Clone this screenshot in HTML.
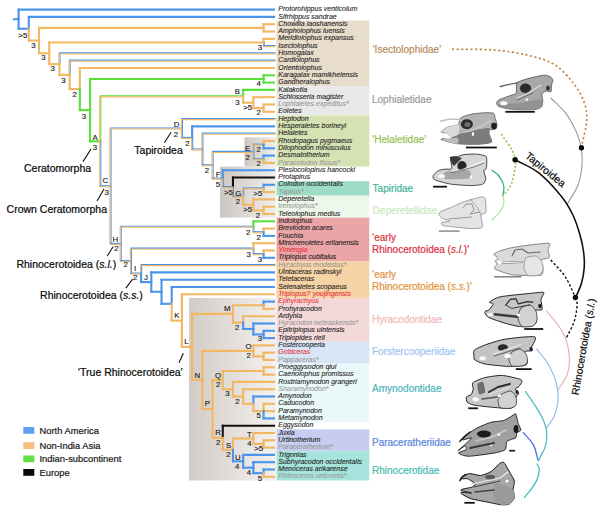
<!DOCTYPE html>
<html><head><meta charset="utf-8"><style>
html,body{margin:0;padding:0;background:#fff;width:600px;height:514px;overflow:hidden}
svg{display:block;font-family:"Liberation Sans",sans-serif}
</style></head><body>
<svg width="600" height="514" viewBox="0 0 600 514">
<defs><linearGradient id="gb" x1="0" x2="1" y1="0" y2="0"><stop offset="0" stop-color="#cdc6c0"/><stop offset="1" stop-color="#f1efed"/></linearGradient><linearGradient id="gb2" x1="0" x2="1" y1="0" y2="0"><stop offset="0" stop-color="#d2cbc6"/><stop offset="1" stop-color="#f3f1ef"/></linearGradient></defs>
<rect x="276.5" y="20.55" width="92.8" height="65.70" fill="#e8dccb"/>
<rect x="276.5" y="86.25" width="92.8" height="29.20" fill="#e9e9e9"/>
<rect x="276.5" y="115.45" width="92.8" height="51.10" fill="#d6e2b4"/>
<rect x="276.5" y="181.15" width="92.8" height="14.60" fill="#9fdcc8"/>
<rect x="276.5" y="195.75" width="92.8" height="21.90" fill="#eef8ea"/>
<rect x="276.5" y="217.65" width="92.8" height="43.80" fill="#eba5a7"/>
<rect x="276.5" y="261.45" width="92.8" height="36.50" fill="#f5d3a5"/>
<rect x="276.5" y="297.95" width="92.8" height="43.80" fill="#f3d8d8"/>
<rect x="276.5" y="341.75" width="92.8" height="21.90" fill="#d8e6f7"/>
<rect x="276.5" y="363.65" width="92.8" height="58.40" fill="#eaf9f8"/>
<rect x="276.5" y="429.35" width="92.8" height="21.90" fill="#c7cdf0"/>
<rect x="276.5" y="451.25" width="92.8" height="29.20" fill="#a6e3dc"/>
<rect x="244.4" y="137.35" width="31.6" height="29.20" fill="url(#gb)"/>
<rect x="220.1" y="166.55" width="55.9" height="51.10" fill="url(#gb)"/>
<rect x="189.0" y="297.95" width="87" height="182.50" fill="url(#gb2)"/>
<line x1="13" y1="19.17" x2="18.60" y2="19.17" stroke="#4a94ec" stroke-width="2.1"/>
<line x1="18.60" y1="8.60" x2="18.60" y2="20.17" stroke="#4a94ec" stroke-width="2.1"/>
<line x1="17.60" y1="9.60" x2="275.00" y2="9.60" stroke="#4a94ec" stroke-width="2.1"/>
<line x1="18.60" y1="18.17" x2="18.60" y2="29.74" stroke="#4a94ec" stroke-width="2.1"/>
<line x1="17.60" y1="28.74" x2="28.81" y2="28.74" stroke="#4a94ec" stroke-width="2.1"/>
<line x1="28.81" y1="15.90" x2="28.81" y2="29.74" stroke="#4a94ec" stroke-width="2.1"/>
<line x1="27.81" y1="16.90" x2="275.00" y2="16.90" stroke="#4a94ec" stroke-width="2.1"/>
<line x1="28.81" y1="27.74" x2="28.81" y2="41.57" stroke="#f2b760" stroke-width="2.1"/>
<line x1="27.81" y1="40.57" x2="39.02" y2="40.57" stroke="#f2b760" stroke-width="2.1"/>
<line x1="39.02" y1="26.85" x2="39.02" y2="41.57" stroke="#f2b760" stroke-width="2.1"/>
<line x1="38.02" y1="27.85" x2="263.59" y2="27.85" stroke="#f2b760" stroke-width="2.1"/>
<line x1="263.59" y1="23.20" x2="263.59" y2="28.85" stroke="#f2b760" stroke-width="2.1"/>
<line x1="262.59" y1="24.20" x2="275.00" y2="24.20" stroke="#f2b760" stroke-width="2.1"/>
<line x1="263.59" y1="26.85" x2="263.59" y2="32.50" stroke="#f2b760" stroke-width="2.1"/>
<line x1="262.59" y1="31.50" x2="275.00" y2="31.50" stroke="#f2b760" stroke-width="2.1"/>
<line x1="39.02" y1="39.57" x2="39.02" y2="54.29" stroke="#f2b760" stroke-width="2.1"/>
<line x1="38.02" y1="53.29" x2="49.22" y2="53.29" stroke="#f2b760" stroke-width="2.1"/>
<line x1="49.22" y1="41.45" x2="49.22" y2="54.29" stroke="#f2b760" stroke-width="2.1"/>
<line x1="48.22" y1="42.45" x2="263.59" y2="42.45" stroke="#f2b760" stroke-width="2.1"/>
<line x1="263.59" y1="37.80" x2="263.59" y2="43.45" stroke="#f2b760" stroke-width="2.1"/>
<line x1="262.59" y1="38.80" x2="275.00" y2="38.80" stroke="#f2b760" stroke-width="2.1"/>
<line x1="264.14" y1="41.95" x2="264.14" y2="46.60" stroke="#4a94ec" stroke-width="1.1"/>
<line x1="263.04" y1="41.95" x2="263.04" y2="46.60" stroke="#f2b760" stroke-width="1.1"/>
<line x1="263.09" y1="45.55" x2="275.50" y2="45.55" stroke="#4a94ec" stroke-width="1.1"/>
<line x1="263.09" y1="46.65" x2="275.50" y2="46.65" stroke="#f2b760" stroke-width="1.1"/>
<line x1="49.22" y1="52.29" x2="49.22" y2="65.14" stroke="#f2b760" stroke-width="2.1"/>
<line x1="48.22" y1="64.14" x2="59.43" y2="64.14" stroke="#f2b760" stroke-width="2.1"/>
<line x1="59.98" y1="52.90" x2="59.98" y2="64.64" stroke="#4a94ec" stroke-width="1.1"/>
<line x1="58.88" y1="52.90" x2="58.88" y2="64.64" stroke="#f2b760" stroke-width="1.1"/>
<line x1="58.93" y1="52.85" x2="275.50" y2="52.85" stroke="#4a94ec" stroke-width="1.1"/>
<line x1="58.93" y1="53.95" x2="275.50" y2="53.95" stroke="#f2b760" stroke-width="1.1"/>
<line x1="59.43" y1="63.14" x2="59.43" y2="75.88" stroke="#f2b760" stroke-width="2.1"/>
<line x1="58.43" y1="74.88" x2="69.64" y2="74.88" stroke="#f2b760" stroke-width="2.1"/>
<line x1="70.19" y1="60.20" x2="70.19" y2="75.38" stroke="#4a94ec" stroke-width="1.1"/>
<line x1="69.09" y1="60.20" x2="69.09" y2="75.38" stroke="#f2b760" stroke-width="1.1"/>
<line x1="69.14" y1="60.15" x2="275.50" y2="60.15" stroke="#4a94ec" stroke-width="1.1"/>
<line x1="69.14" y1="61.25" x2="275.50" y2="61.25" stroke="#f2b760" stroke-width="1.1"/>
<line x1="69.64" y1="73.88" x2="69.64" y2="90.05" stroke="#f2b760" stroke-width="2.1"/>
<line x1="68.64" y1="89.05" x2="79.85" y2="89.05" stroke="#f2b760" stroke-width="2.1"/>
<line x1="79.85" y1="67.00" x2="79.85" y2="90.05" stroke="#f2b760" stroke-width="2.1"/>
<line x1="78.85" y1="68.00" x2="275.00" y2="68.00" stroke="#f2b760" stroke-width="2.1"/>
<line x1="79.85" y1="88.05" x2="79.85" y2="111.11" stroke="#5ae03a" stroke-width="2.1"/>
<line x1="78.85" y1="110.11" x2="90.06" y2="110.11" stroke="#5ae03a" stroke-width="2.1"/>
<line x1="90.06" y1="77.95" x2="90.06" y2="111.11" stroke="#5ae03a" stroke-width="2.1"/>
<line x1="89.06" y1="78.95" x2="263.59" y2="78.95" stroke="#5ae03a" stroke-width="2.1"/>
<line x1="263.59" y1="74.30" x2="263.59" y2="79.95" stroke="#5ae03a" stroke-width="2.1"/>
<line x1="262.59" y1="75.30" x2="275.00" y2="75.30" stroke="#5ae03a" stroke-width="2.1"/>
<line x1="263.59" y1="77.95" x2="263.59" y2="83.60" stroke="#5ae03a" stroke-width="2.1"/>
<line x1="262.59" y1="82.60" x2="275.00" y2="82.60" stroke="#5ae03a" stroke-width="2.1"/>
<line x1="90.06" y1="109.11" x2="90.06" y2="142.26" stroke="#5ae03a" stroke-width="2.1"/>
<line x1="89.06" y1="141.26" x2="100.26" y2="141.26" stroke="#5ae03a" stroke-width="2.1"/>
<line x1="100.81" y1="95.79" x2="100.81" y2="141.76" stroke="#5ae03a" stroke-width="1.1"/>
<line x1="99.71" y1="95.79" x2="99.71" y2="141.76" stroke="#f2b760" stroke-width="1.1"/>
<line x1="99.76" y1="95.74" x2="243.68" y2="95.74" stroke="#5ae03a" stroke-width="1.1"/>
<line x1="99.76" y1="96.84" x2="243.68" y2="96.84" stroke="#f2b760" stroke-width="1.1"/>
<line x1="243.18" y1="88.90" x2="243.18" y2="97.29" stroke="#5ae03a" stroke-width="2.1"/>
<line x1="242.18" y1="89.90" x2="275.00" y2="89.90" stroke="#5ae03a" stroke-width="2.1"/>
<line x1="243.18" y1="95.29" x2="243.18" y2="103.67" stroke="#f2b760" stroke-width="2.1"/>
<line x1="242.18" y1="102.67" x2="253.38" y2="102.67" stroke="#f2b760" stroke-width="2.1"/>
<line x1="253.38" y1="96.20" x2="253.38" y2="103.67" stroke="#f2b760" stroke-width="2.1"/>
<line x1="252.38" y1="97.20" x2="275.00" y2="97.20" stroke="#f2b760" stroke-width="2.1"/>
<line x1="253.38" y1="101.67" x2="253.38" y2="109.15" stroke="#f2b760" stroke-width="2.1"/>
<line x1="252.38" y1="108.15" x2="263.59" y2="108.15" stroke="#f2b760" stroke-width="2.1"/>
<line x1="263.59" y1="103.50" x2="263.59" y2="109.15" stroke="#f2b760" stroke-width="2.1"/>
<line x1="262.59" y1="104.50" x2="275.00" y2="104.50" stroke="#f2b760" stroke-width="2.1"/>
<line x1="263.59" y1="107.15" x2="263.59" y2="112.80" stroke="#f2b760" stroke-width="2.1"/>
<line x1="262.59" y1="111.80" x2="275.00" y2="111.80" stroke="#f2b760" stroke-width="2.1"/>
<line x1="100.81" y1="140.76" x2="100.81" y2="186.74" stroke="#4a94ec" stroke-width="1.1"/>
<line x1="99.71" y1="140.76" x2="99.71" y2="186.74" stroke="#f2b760" stroke-width="1.1"/>
<line x1="99.76" y1="185.69" x2="110.97" y2="185.69" stroke="#4a94ec" stroke-width="1.1"/>
<line x1="99.76" y1="186.79" x2="110.97" y2="186.79" stroke="#f2b760" stroke-width="1.1"/>
<line x1="111.02" y1="128.02" x2="111.02" y2="186.74" stroke="#4a94ec" stroke-width="1.1"/>
<line x1="109.92" y1="128.02" x2="109.92" y2="186.74" stroke="#f2b760" stroke-width="1.1"/>
<line x1="109.97" y1="127.97" x2="182.43" y2="127.97" stroke="#4a94ec" stroke-width="1.1"/>
<line x1="109.97" y1="129.07" x2="182.43" y2="129.07" stroke="#f2b760" stroke-width="1.1"/>
<line x1="182.48" y1="118.60" x2="182.48" y2="129.02" stroke="#4a94ec" stroke-width="1.1"/>
<line x1="181.38" y1="118.60" x2="181.38" y2="129.02" stroke="#f2b760" stroke-width="1.1"/>
<line x1="181.43" y1="118.55" x2="275.50" y2="118.55" stroke="#4a94ec" stroke-width="1.1"/>
<line x1="181.43" y1="119.65" x2="275.50" y2="119.65" stroke="#f2b760" stroke-width="1.1"/>
<line x1="182.48" y1="128.02" x2="182.48" y2="138.45" stroke="#4a94ec" stroke-width="1.1"/>
<line x1="181.38" y1="128.02" x2="181.38" y2="138.45" stroke="#f2b760" stroke-width="1.1"/>
<line x1="181.43" y1="137.40" x2="192.64" y2="137.40" stroke="#4a94ec" stroke-width="1.1"/>
<line x1="181.43" y1="138.50" x2="192.64" y2="138.50" stroke="#f2b760" stroke-width="1.1"/>
<line x1="192.14" y1="125.40" x2="192.14" y2="138.95" stroke="#4a94ec" stroke-width="2.1"/>
<line x1="191.14" y1="126.40" x2="275.00" y2="126.40" stroke="#4a94ec" stroke-width="2.1"/>
<line x1="192.69" y1="137.45" x2="192.69" y2="150.00" stroke="#4a94ec" stroke-width="1.1"/>
<line x1="191.59" y1="137.45" x2="191.59" y2="150.00" stroke="#f2b760" stroke-width="1.1"/>
<line x1="191.64" y1="148.95" x2="202.84" y2="148.95" stroke="#4a94ec" stroke-width="1.1"/>
<line x1="191.64" y1="150.05" x2="202.84" y2="150.05" stroke="#f2b760" stroke-width="1.1"/>
<line x1="202.89" y1="133.20" x2="202.89" y2="150.00" stroke="#4a94ec" stroke-width="1.1"/>
<line x1="201.79" y1="133.20" x2="201.79" y2="150.00" stroke="#f2b760" stroke-width="1.1"/>
<line x1="201.84" y1="133.15" x2="275.50" y2="133.15" stroke="#4a94ec" stroke-width="1.1"/>
<line x1="201.84" y1="134.25" x2="275.50" y2="134.25" stroke="#f2b760" stroke-width="1.1"/>
<line x1="202.89" y1="149.00" x2="202.89" y2="165.80" stroke="#4a94ec" stroke-width="1.1"/>
<line x1="201.79" y1="149.00" x2="201.79" y2="165.80" stroke="#f2b760" stroke-width="1.1"/>
<line x1="201.84" y1="164.75" x2="213.05" y2="164.75" stroke="#4a94ec" stroke-width="1.1"/>
<line x1="201.84" y1="165.85" x2="213.05" y2="165.85" stroke="#f2b760" stroke-width="1.1"/>
<line x1="213.10" y1="151.45" x2="213.10" y2="165.80" stroke="#4a94ec" stroke-width="1.1"/>
<line x1="212.00" y1="151.45" x2="212.00" y2="165.80" stroke="#f2b760" stroke-width="1.1"/>
<line x1="212.05" y1="151.40" x2="253.88" y2="151.40" stroke="#4a94ec" stroke-width="1.1"/>
<line x1="212.05" y1="152.50" x2="253.88" y2="152.50" stroke="#f2b760" stroke-width="1.1"/>
<line x1="253.93" y1="144.15" x2="253.93" y2="152.45" stroke="#4a94ec" stroke-width="1.1"/>
<line x1="252.83" y1="144.15" x2="252.83" y2="152.45" stroke="#f2b760" stroke-width="1.1"/>
<line x1="252.88" y1="144.10" x2="264.09" y2="144.10" stroke="#4a94ec" stroke-width="1.1"/>
<line x1="252.88" y1="145.20" x2="264.09" y2="145.20" stroke="#f2b760" stroke-width="1.1"/>
<line x1="263.59" y1="140.00" x2="263.59" y2="145.65" stroke="#f2b760" stroke-width="2.1"/>
<line x1="262.59" y1="141.00" x2="275.00" y2="141.00" stroke="#f2b760" stroke-width="2.1"/>
<line x1="263.59" y1="143.65" x2="263.59" y2="149.30" stroke="#4a94ec" stroke-width="2.1"/>
<line x1="262.59" y1="148.30" x2="275.00" y2="148.30" stroke="#4a94ec" stroke-width="2.1"/>
<line x1="253.93" y1="151.45" x2="253.93" y2="159.75" stroke="#4a94ec" stroke-width="1.1"/>
<line x1="252.83" y1="151.45" x2="252.83" y2="159.75" stroke="#f2b760" stroke-width="1.1"/>
<line x1="252.88" y1="158.70" x2="264.09" y2="158.70" stroke="#4a94ec" stroke-width="1.1"/>
<line x1="252.88" y1="159.80" x2="264.09" y2="159.80" stroke="#f2b760" stroke-width="1.1"/>
<line x1="263.59" y1="154.60" x2="263.59" y2="160.25" stroke="#4a94ec" stroke-width="2.1"/>
<line x1="262.59" y1="155.60" x2="275.00" y2="155.60" stroke="#4a94ec" stroke-width="2.1"/>
<line x1="263.59" y1="158.25" x2="263.59" y2="163.90" stroke="#f2b760" stroke-width="2.1"/>
<line x1="262.59" y1="162.90" x2="275.00" y2="162.90" stroke="#f2b760" stroke-width="2.1"/>
<line x1="213.10" y1="164.80" x2="213.10" y2="179.14" stroke="#4a94ec" stroke-width="1.1"/>
<line x1="212.00" y1="164.80" x2="212.00" y2="179.14" stroke="#f2b760" stroke-width="1.1"/>
<line x1="212.05" y1="178.09" x2="223.26" y2="178.09" stroke="#4a94ec" stroke-width="1.1"/>
<line x1="212.05" y1="179.19" x2="223.26" y2="179.19" stroke="#f2b760" stroke-width="1.1"/>
<line x1="222.76" y1="169.20" x2="222.76" y2="179.64" stroke="#4a94ec" stroke-width="2.1"/>
<line x1="221.76" y1="170.20" x2="275.00" y2="170.20" stroke="#4a94ec" stroke-width="2.1"/>
<line x1="223.31" y1="178.14" x2="223.31" y2="187.58" stroke="#4a94ec" stroke-width="1.1"/>
<line x1="222.21" y1="178.14" x2="222.21" y2="187.58" stroke="#f2b760" stroke-width="1.1"/>
<line x1="222.26" y1="186.53" x2="233.47" y2="186.53" stroke="#4a94ec" stroke-width="1.1"/>
<line x1="222.26" y1="187.63" x2="233.47" y2="187.63" stroke="#f2b760" stroke-width="1.1"/>
<line x1="232.97" y1="176.50" x2="232.97" y2="188.08" stroke="#111111" stroke-width="2.1"/>
<line x1="231.97" y1="177.50" x2="275.00" y2="177.50" stroke="#111111" stroke-width="2.1"/>
<line x1="233.52" y1="186.58" x2="233.52" y2="197.16" stroke="#4a94ec" stroke-width="1.1"/>
<line x1="232.42" y1="186.58" x2="232.42" y2="197.16" stroke="#f2b760" stroke-width="1.1"/>
<line x1="232.47" y1="196.11" x2="243.68" y2="196.11" stroke="#4a94ec" stroke-width="1.1"/>
<line x1="232.47" y1="197.21" x2="243.68" y2="197.21" stroke="#f2b760" stroke-width="1.1"/>
<line x1="243.73" y1="187.95" x2="243.73" y2="197.16" stroke="#4a94ec" stroke-width="1.1"/>
<line x1="242.63" y1="187.95" x2="242.63" y2="197.16" stroke="#f2b760" stroke-width="1.1"/>
<line x1="242.68" y1="187.90" x2="264.09" y2="187.90" stroke="#4a94ec" stroke-width="1.1"/>
<line x1="242.68" y1="189.00" x2="264.09" y2="189.00" stroke="#f2b760" stroke-width="1.1"/>
<line x1="263.59" y1="183.80" x2="263.59" y2="189.45" stroke="#4a94ec" stroke-width="2.1"/>
<line x1="262.59" y1="184.80" x2="275.00" y2="184.80" stroke="#4a94ec" stroke-width="2.1"/>
<line x1="263.59" y1="187.45" x2="263.59" y2="193.10" stroke="#f2b760" stroke-width="2.1"/>
<line x1="262.59" y1="192.10" x2="275.00" y2="192.10" stroke="#f2b760" stroke-width="2.1"/>
<line x1="243.18" y1="195.66" x2="243.18" y2="205.88" stroke="#f2b760" stroke-width="2.1"/>
<line x1="242.18" y1="204.88" x2="253.38" y2="204.88" stroke="#f2b760" stroke-width="2.1"/>
<line x1="253.38" y1="198.40" x2="253.38" y2="205.88" stroke="#f2b760" stroke-width="2.1"/>
<line x1="252.38" y1="199.40" x2="275.00" y2="199.40" stroke="#f2b760" stroke-width="2.1"/>
<line x1="253.38" y1="203.88" x2="253.38" y2="211.35" stroke="#f2b760" stroke-width="2.1"/>
<line x1="252.38" y1="210.35" x2="263.59" y2="210.35" stroke="#f2b760" stroke-width="2.1"/>
<line x1="263.59" y1="205.70" x2="263.59" y2="211.35" stroke="#f2b760" stroke-width="2.1"/>
<line x1="262.59" y1="206.70" x2="275.00" y2="206.70" stroke="#f2b760" stroke-width="2.1"/>
<line x1="263.59" y1="209.35" x2="263.59" y2="215.00" stroke="#f2b760" stroke-width="2.1"/>
<line x1="262.59" y1="214.00" x2="275.00" y2="214.00" stroke="#f2b760" stroke-width="2.1"/>
<line x1="111.02" y1="185.74" x2="111.02" y2="244.45" stroke="#4a94ec" stroke-width="1.1"/>
<line x1="109.92" y1="185.74" x2="109.92" y2="244.45" stroke="#f2b760" stroke-width="1.1"/>
<line x1="109.97" y1="243.40" x2="121.18" y2="243.40" stroke="#4a94ec" stroke-width="1.1"/>
<line x1="109.97" y1="244.50" x2="121.18" y2="244.50" stroke="#f2b760" stroke-width="1.1"/>
<line x1="121.23" y1="226.27" x2="121.23" y2="244.45" stroke="#4a94ec" stroke-width="1.1"/>
<line x1="120.13" y1="226.27" x2="120.13" y2="244.45" stroke="#f2b760" stroke-width="1.1"/>
<line x1="120.18" y1="226.22" x2="253.88" y2="226.22" stroke="#4a94ec" stroke-width="1.1"/>
<line x1="120.18" y1="227.32" x2="253.88" y2="227.32" stroke="#f2b760" stroke-width="1.1"/>
<line x1="253.38" y1="220.30" x2="253.38" y2="227.77" stroke="#5ae03a" stroke-width="2.1"/>
<line x1="252.38" y1="221.30" x2="275.00" y2="221.30" stroke="#5ae03a" stroke-width="2.1"/>
<line x1="253.93" y1="226.27" x2="253.93" y2="232.75" stroke="#4a94ec" stroke-width="1.1"/>
<line x1="252.83" y1="226.27" x2="252.83" y2="232.75" stroke="#f2b760" stroke-width="1.1"/>
<line x1="252.88" y1="231.70" x2="264.09" y2="231.70" stroke="#4a94ec" stroke-width="1.1"/>
<line x1="252.88" y1="232.80" x2="264.09" y2="232.80" stroke="#f2b760" stroke-width="1.1"/>
<line x1="263.59" y1="227.60" x2="263.59" y2="233.25" stroke="#f2b760" stroke-width="2.1"/>
<line x1="262.59" y1="228.60" x2="275.00" y2="228.60" stroke="#f2b760" stroke-width="2.1"/>
<line x1="263.59" y1="231.25" x2="263.59" y2="236.90" stroke="#4a94ec" stroke-width="2.1"/>
<line x1="262.59" y1="235.90" x2="275.00" y2="235.90" stroke="#4a94ec" stroke-width="2.1"/>
<line x1="121.23" y1="243.45" x2="121.23" y2="261.63" stroke="#4a94ec" stroke-width="1.1"/>
<line x1="120.13" y1="243.45" x2="120.13" y2="261.63" stroke="#f2b760" stroke-width="1.1"/>
<line x1="120.18" y1="260.58" x2="131.39" y2="260.58" stroke="#4a94ec" stroke-width="1.1"/>
<line x1="120.18" y1="261.68" x2="131.39" y2="261.68" stroke="#f2b760" stroke-width="1.1"/>
<line x1="131.44" y1="248.18" x2="131.44" y2="261.63" stroke="#4a94ec" stroke-width="1.1"/>
<line x1="130.34" y1="248.18" x2="130.34" y2="261.63" stroke="#f2b760" stroke-width="1.1"/>
<line x1="130.39" y1="248.12" x2="253.88" y2="248.12" stroke="#4a94ec" stroke-width="1.1"/>
<line x1="130.39" y1="249.23" x2="253.88" y2="249.23" stroke="#f2b760" stroke-width="1.1"/>
<line x1="253.38" y1="242.20" x2="253.38" y2="249.68" stroke="#f2b760" stroke-width="2.1"/>
<line x1="252.38" y1="243.20" x2="275.00" y2="243.20" stroke="#f2b760" stroke-width="2.1"/>
<line x1="253.93" y1="248.18" x2="253.93" y2="254.65" stroke="#4a94ec" stroke-width="1.1"/>
<line x1="252.83" y1="248.18" x2="252.83" y2="254.65" stroke="#f2b760" stroke-width="1.1"/>
<line x1="252.88" y1="253.60" x2="264.09" y2="253.60" stroke="#4a94ec" stroke-width="1.1"/>
<line x1="252.88" y1="254.70" x2="264.09" y2="254.70" stroke="#f2b760" stroke-width="1.1"/>
<line x1="263.59" y1="249.50" x2="263.59" y2="255.15" stroke="#f2b760" stroke-width="2.1"/>
<line x1="262.59" y1="250.50" x2="275.00" y2="250.50" stroke="#f2b760" stroke-width="2.1"/>
<line x1="263.59" y1="253.15" x2="263.59" y2="258.80" stroke="#4a94ec" stroke-width="2.1"/>
<line x1="262.59" y1="257.80" x2="275.00" y2="257.80" stroke="#4a94ec" stroke-width="2.1"/>
<line x1="131.44" y1="260.63" x2="131.44" y2="274.09" stroke="#4a94ec" stroke-width="1.1"/>
<line x1="130.34" y1="260.63" x2="130.34" y2="274.09" stroke="#f2b760" stroke-width="1.1"/>
<line x1="130.39" y1="273.04" x2="141.60" y2="273.04" stroke="#4a94ec" stroke-width="1.1"/>
<line x1="130.39" y1="274.14" x2="141.60" y2="274.14" stroke="#f2b760" stroke-width="1.1"/>
<line x1="141.65" y1="264.60" x2="141.65" y2="274.09" stroke="#4a94ec" stroke-width="1.1"/>
<line x1="140.55" y1="264.60" x2="140.55" y2="274.09" stroke="#f2b760" stroke-width="1.1"/>
<line x1="140.60" y1="264.55" x2="275.50" y2="264.55" stroke="#4a94ec" stroke-width="1.1"/>
<line x1="140.60" y1="265.65" x2="275.50" y2="265.65" stroke="#f2b760" stroke-width="1.1"/>
<line x1="141.10" y1="272.59" x2="141.10" y2="283.08" stroke="#4a94ec" stroke-width="2.1"/>
<line x1="140.10" y1="282.08" x2="151.30" y2="282.08" stroke="#4a94ec" stroke-width="2.1"/>
<line x1="151.30" y1="271.40" x2="151.30" y2="283.08" stroke="#4a94ec" stroke-width="2.1"/>
<line x1="150.30" y1="272.40" x2="275.00" y2="272.40" stroke="#4a94ec" stroke-width="2.1"/>
<line x1="151.30" y1="281.08" x2="151.30" y2="292.75" stroke="#4a94ec" stroke-width="2.1"/>
<line x1="150.30" y1="291.75" x2="161.51" y2="291.75" stroke="#4a94ec" stroke-width="2.1"/>
<line x1="161.51" y1="278.70" x2="161.51" y2="292.75" stroke="#4a94ec" stroke-width="2.1"/>
<line x1="160.51" y1="279.70" x2="275.00" y2="279.70" stroke="#4a94ec" stroke-width="2.1"/>
<line x1="161.51" y1="290.75" x2="161.51" y2="304.80" stroke="#4a94ec" stroke-width="2.1"/>
<line x1="160.51" y1="303.80" x2="171.72" y2="303.80" stroke="#4a94ec" stroke-width="2.1"/>
<line x1="171.72" y1="286.00" x2="171.72" y2="304.80" stroke="#4a94ec" stroke-width="2.1"/>
<line x1="170.72" y1="287.00" x2="275.00" y2="287.00" stroke="#4a94ec" stroke-width="2.1"/>
<line x1="171.72" y1="302.80" x2="171.72" y2="321.61" stroke="#f2b760" stroke-width="2.1"/>
<line x1="170.72" y1="320.61" x2="181.93" y2="320.61" stroke="#f2b760" stroke-width="2.1"/>
<line x1="181.93" y1="293.30" x2="181.93" y2="321.61" stroke="#f2b760" stroke-width="2.1"/>
<line x1="180.93" y1="294.30" x2="275.00" y2="294.30" stroke="#f2b760" stroke-width="2.1"/>
<line x1="181.93" y1="319.61" x2="181.93" y2="347.91" stroke="#f2b760" stroke-width="2.1"/>
<line x1="180.93" y1="346.91" x2="192.14" y2="346.91" stroke="#f2b760" stroke-width="2.1"/>
<line x1="192.14" y1="312.92" x2="192.14" y2="347.91" stroke="#f2b760" stroke-width="2.1"/>
<line x1="191.14" y1="313.92" x2="232.97" y2="313.92" stroke="#f2b760" stroke-width="2.1"/>
<line x1="232.97" y1="304.25" x2="232.97" y2="314.92" stroke="#f2b760" stroke-width="2.1"/>
<line x1="231.97" y1="305.25" x2="263.59" y2="305.25" stroke="#f2b760" stroke-width="2.1"/>
<line x1="263.59" y1="300.60" x2="263.59" y2="306.25" stroke="#4a94ec" stroke-width="2.1"/>
<line x1="262.59" y1="301.60" x2="275.00" y2="301.60" stroke="#4a94ec" stroke-width="2.1"/>
<line x1="263.59" y1="304.25" x2="263.59" y2="309.90" stroke="#f2b760" stroke-width="2.1"/>
<line x1="262.59" y1="308.90" x2="275.00" y2="308.90" stroke="#f2b760" stroke-width="2.1"/>
<line x1="232.97" y1="312.92" x2="232.97" y2="323.59" stroke="#f2b760" stroke-width="2.1"/>
<line x1="231.97" y1="322.59" x2="243.18" y2="322.59" stroke="#f2b760" stroke-width="2.1"/>
<line x1="243.18" y1="315.20" x2="243.18" y2="323.59" stroke="#f2b760" stroke-width="2.1"/>
<line x1="242.18" y1="316.20" x2="275.00" y2="316.20" stroke="#f2b760" stroke-width="2.1"/>
<line x1="243.18" y1="321.59" x2="243.18" y2="329.98" stroke="#4a94ec" stroke-width="2.1"/>
<line x1="242.18" y1="328.98" x2="253.38" y2="328.98" stroke="#4a94ec" stroke-width="2.1"/>
<line x1="253.38" y1="322.50" x2="253.38" y2="329.98" stroke="#4a94ec" stroke-width="2.1"/>
<line x1="252.38" y1="323.50" x2="275.00" y2="323.50" stroke="#4a94ec" stroke-width="2.1"/>
<line x1="253.38" y1="327.98" x2="253.38" y2="335.45" stroke="#4a94ec" stroke-width="2.1"/>
<line x1="252.38" y1="334.45" x2="263.59" y2="334.45" stroke="#4a94ec" stroke-width="2.1"/>
<line x1="263.59" y1="329.80" x2="263.59" y2="335.45" stroke="#4a94ec" stroke-width="2.1"/>
<line x1="262.59" y1="330.80" x2="275.00" y2="330.80" stroke="#4a94ec" stroke-width="2.1"/>
<line x1="263.59" y1="333.45" x2="263.59" y2="339.10" stroke="#4a94ec" stroke-width="2.1"/>
<line x1="262.59" y1="338.10" x2="275.00" y2="338.10" stroke="#4a94ec" stroke-width="2.1"/>
<line x1="192.14" y1="345.91" x2="192.14" y2="380.90" stroke="#f2b760" stroke-width="2.1"/>
<line x1="191.14" y1="379.90" x2="202.34" y2="379.90" stroke="#f2b760" stroke-width="2.1"/>
<line x1="202.34" y1="349.88" x2="202.34" y2="380.90" stroke="#f2b760" stroke-width="2.1"/>
<line x1="201.34" y1="350.88" x2="253.38" y2="350.88" stroke="#f2b760" stroke-width="2.1"/>
<line x1="253.38" y1="344.40" x2="253.38" y2="351.88" stroke="#f2b760" stroke-width="2.1"/>
<line x1="252.38" y1="345.40" x2="275.00" y2="345.40" stroke="#f2b760" stroke-width="2.1"/>
<line x1="253.38" y1="349.88" x2="253.38" y2="357.35" stroke="#f2b760" stroke-width="2.1"/>
<line x1="252.38" y1="356.35" x2="263.59" y2="356.35" stroke="#f2b760" stroke-width="2.1"/>
<line x1="263.59" y1="351.70" x2="263.59" y2="357.35" stroke="#f2b760" stroke-width="2.1"/>
<line x1="262.59" y1="352.70" x2="275.00" y2="352.70" stroke="#f2b760" stroke-width="2.1"/>
<line x1="263.59" y1="355.35" x2="263.59" y2="361.00" stroke="#f2b760" stroke-width="2.1"/>
<line x1="262.59" y1="360.00" x2="275.00" y2="360.00" stroke="#f2b760" stroke-width="2.1"/>
<line x1="202.34" y1="378.90" x2="202.34" y2="409.93" stroke="#f2b760" stroke-width="2.1"/>
<line x1="201.34" y1="408.93" x2="212.55" y2="408.93" stroke="#f2b760" stroke-width="2.1"/>
<line x1="212.55" y1="379.08" x2="212.55" y2="409.93" stroke="#f2b760" stroke-width="2.1"/>
<line x1="211.55" y1="380.08" x2="222.76" y2="380.08" stroke="#f2b760" stroke-width="2.1"/>
<line x1="222.76" y1="369.95" x2="222.76" y2="381.08" stroke="#f2b760" stroke-width="2.1"/>
<line x1="221.76" y1="370.95" x2="263.59" y2="370.95" stroke="#f2b760" stroke-width="2.1"/>
<line x1="263.59" y1="366.30" x2="263.59" y2="371.95" stroke="#f2b760" stroke-width="2.1"/>
<line x1="262.59" y1="367.30" x2="275.00" y2="367.30" stroke="#f2b760" stroke-width="2.1"/>
<line x1="263.59" y1="369.95" x2="263.59" y2="375.60" stroke="#f2b760" stroke-width="2.1"/>
<line x1="262.59" y1="374.60" x2="275.00" y2="374.60" stroke="#f2b760" stroke-width="2.1"/>
<line x1="222.76" y1="379.08" x2="222.76" y2="390.20" stroke="#f2b760" stroke-width="2.1"/>
<line x1="221.76" y1="389.20" x2="232.97" y2="389.20" stroke="#f2b760" stroke-width="2.1"/>
<line x1="232.97" y1="380.90" x2="232.97" y2="390.20" stroke="#f2b760" stroke-width="2.1"/>
<line x1="231.97" y1="381.90" x2="275.00" y2="381.90" stroke="#f2b760" stroke-width="2.1"/>
<line x1="232.97" y1="388.20" x2="232.97" y2="397.50" stroke="#f2b760" stroke-width="2.1"/>
<line x1="231.97" y1="396.50" x2="243.18" y2="396.50" stroke="#f2b760" stroke-width="2.1"/>
<line x1="243.18" y1="388.20" x2="243.18" y2="397.50" stroke="#f2b760" stroke-width="2.1"/>
<line x1="242.18" y1="389.20" x2="275.00" y2="389.20" stroke="#f2b760" stroke-width="2.1"/>
<line x1="243.18" y1="395.50" x2="243.18" y2="404.80" stroke="#f2b760" stroke-width="2.1"/>
<line x1="242.18" y1="403.80" x2="253.38" y2="403.80" stroke="#f2b760" stroke-width="2.1"/>
<line x1="253.38" y1="395.50" x2="253.38" y2="404.80" stroke="#4a94ec" stroke-width="2.1"/>
<line x1="252.38" y1="396.50" x2="275.00" y2="396.50" stroke="#4a94ec" stroke-width="2.1"/>
<line x1="253.38" y1="402.80" x2="253.38" y2="412.10" stroke="#f2b760" stroke-width="2.1"/>
<line x1="252.38" y1="411.10" x2="263.59" y2="411.10" stroke="#f2b760" stroke-width="2.1"/>
<line x1="263.59" y1="402.80" x2="263.59" y2="412.10" stroke="#f2b760" stroke-width="2.1"/>
<line x1="262.59" y1="403.80" x2="275.00" y2="403.80" stroke="#f2b760" stroke-width="2.1"/>
<line x1="262.59" y1="411.10" x2="263.59" y2="411.10" stroke="#f2b760" stroke-width="2.1"/>
<line x1="262.59" y1="411.10" x2="275.00" y2="411.10" stroke="#f2b760" stroke-width="2.1"/>
<line x1="263.59" y1="410.10" x2="263.59" y2="419.40" stroke="#4a94ec" stroke-width="2.1"/>
<line x1="262.59" y1="418.40" x2="275.00" y2="418.40" stroke="#4a94ec" stroke-width="2.1"/>
<line x1="212.55" y1="407.93" x2="212.55" y2="438.79" stroke="#f2b760" stroke-width="2.1"/>
<line x1="211.55" y1="437.79" x2="222.76" y2="437.79" stroke="#f2b760" stroke-width="2.1"/>
<line x1="222.76" y1="424.70" x2="222.76" y2="438.79" stroke="#111111" stroke-width="2.1"/>
<line x1="221.76" y1="425.70" x2="275.00" y2="425.70" stroke="#111111" stroke-width="2.1"/>
<line x1="222.76" y1="436.79" x2="222.76" y2="450.88" stroke="#f2b760" stroke-width="2.1"/>
<line x1="221.76" y1="449.88" x2="232.97" y2="449.88" stroke="#f2b760" stroke-width="2.1"/>
<line x1="232.97" y1="437.48" x2="232.97" y2="450.88" stroke="#f2b760" stroke-width="2.1"/>
<line x1="231.97" y1="438.48" x2="253.38" y2="438.48" stroke="#f2b760" stroke-width="2.1"/>
<line x1="253.38" y1="432.00" x2="253.38" y2="439.48" stroke="#f2b760" stroke-width="2.1"/>
<line x1="252.38" y1="433.00" x2="275.00" y2="433.00" stroke="#f2b760" stroke-width="2.1"/>
<line x1="253.38" y1="437.48" x2="253.38" y2="444.95" stroke="#f2b760" stroke-width="2.1"/>
<line x1="252.38" y1="443.95" x2="263.59" y2="443.95" stroke="#f2b760" stroke-width="2.1"/>
<line x1="263.59" y1="439.30" x2="263.59" y2="444.95" stroke="#f2b760" stroke-width="2.1"/>
<line x1="262.59" y1="440.30" x2="275.00" y2="440.30" stroke="#f2b760" stroke-width="2.1"/>
<line x1="263.59" y1="442.95" x2="263.59" y2="448.60" stroke="#f2b760" stroke-width="2.1"/>
<line x1="262.59" y1="447.60" x2="275.00" y2="447.60" stroke="#f2b760" stroke-width="2.1"/>
<line x1="232.97" y1="448.88" x2="232.97" y2="462.29" stroke="#4a94ec" stroke-width="2.1"/>
<line x1="231.97" y1="461.29" x2="243.18" y2="461.29" stroke="#4a94ec" stroke-width="2.1"/>
<line x1="243.18" y1="453.90" x2="243.18" y2="462.29" stroke="#4a94ec" stroke-width="2.1"/>
<line x1="242.18" y1="454.90" x2="275.00" y2="454.90" stroke="#4a94ec" stroke-width="2.1"/>
<line x1="243.18" y1="460.29" x2="243.18" y2="468.67" stroke="#4a94ec" stroke-width="2.1"/>
<line x1="242.18" y1="467.67" x2="253.38" y2="467.67" stroke="#4a94ec" stroke-width="2.1"/>
<line x1="253.38" y1="461.20" x2="253.38" y2="468.67" stroke="#4a94ec" stroke-width="2.1"/>
<line x1="252.38" y1="462.20" x2="275.00" y2="462.20" stroke="#4a94ec" stroke-width="2.1"/>
<line x1="253.38" y1="466.67" x2="253.38" y2="474.15" stroke="#4a94ec" stroke-width="2.1"/>
<line x1="252.38" y1="473.15" x2="263.59" y2="473.15" stroke="#4a94ec" stroke-width="2.1"/>
<line x1="263.59" y1="468.50" x2="263.59" y2="474.15" stroke="#4a94ec" stroke-width="2.1"/>
<line x1="262.59" y1="469.50" x2="275.00" y2="469.50" stroke="#4a94ec" stroke-width="2.1"/>
<line x1="263.59" y1="472.15" x2="263.59" y2="477.80" stroke="#f2b760" stroke-width="2.1"/>
<line x1="262.59" y1="476.80" x2="275.00" y2="476.80" stroke="#f2b760" stroke-width="2.1"/>
<text x="278.3" y="11.20" font-size="7" font-style="italic" fill="#1e1e1e" stroke="#1e1e1e" stroke-width="0.1">Protorohippus venticolum</text>
<text x="278.3" y="18.50" font-size="7" font-style="italic" fill="#1e1e1e" stroke="#1e1e1e" stroke-width="0.1">Sifrhippus sandrae</text>
<text x="278.3" y="25.80" font-size="7" font-style="italic" fill="#1e1e1e" stroke="#1e1e1e" stroke-width="0.1">Chowliia laoshanensis</text>
<text x="278.3" y="33.10" font-size="7" font-style="italic" fill="#1e1e1e" stroke="#1e1e1e" stroke-width="0.1">Ampholophus luensis</text>
<text x="278.3" y="40.40" font-size="7" font-style="italic" fill="#1e1e1e" stroke="#1e1e1e" stroke-width="0.1">Meridiolophus expansus</text>
<text x="278.3" y="47.70" font-size="7" font-style="italic" fill="#1e1e1e" stroke="#1e1e1e" stroke-width="0.1">Isectolophus</text>
<text x="278.3" y="55.00" font-size="7" font-style="italic" fill="#1e1e1e" stroke="#1e1e1e" stroke-width="0.1">Homogalax</text>
<text x="278.3" y="62.30" font-size="7" font-style="italic" fill="#1e1e1e" stroke="#1e1e1e" stroke-width="0.1">Cardiolophus</text>
<text x="278.3" y="69.60" font-size="7" font-style="italic" fill="#1e1e1e" stroke="#1e1e1e" stroke-width="0.1">Orientolophus</text>
<text x="278.3" y="76.90" font-size="7" font-style="italic" fill="#1e1e1e" stroke="#1e1e1e" stroke-width="0.1">Karagalax mamikhelensis</text>
<text x="278.3" y="84.20" font-size="7" font-style="italic" fill="#1e1e1e" stroke="#1e1e1e" stroke-width="0.1">Gandheralophus</text>
<text x="278.3" y="91.50" font-size="7" font-style="italic" fill="#1e1e1e" stroke="#1e1e1e" stroke-width="0.1">Kalakotia</text>
<text x="278.3" y="98.80" font-size="7" font-style="italic" fill="#1e1e1e" stroke="#1e1e1e" stroke-width="0.1">Schlosseria magister</text>
<text x="278.3" y="106.10" font-size="7" font-style="italic" fill="#9a9a9a" stroke="#9a9a9a" stroke-width="0.1">Lophialetes expeditus*</text>
<text x="278.3" y="113.40" font-size="7" font-style="italic" fill="#1e1e1e" stroke="#1e1e1e" stroke-width="0.1">Eoletes</text>
<text x="278.3" y="120.70" font-size="7" font-style="italic" fill="#1e1e1e" stroke="#1e1e1e" stroke-width="0.1">Heptodon</text>
<text x="278.3" y="128.00" font-size="7" font-style="italic" fill="#1e1e1e" stroke="#1e1e1e" stroke-width="0.1">Hesperaletes borineyi</text>
<text x="278.3" y="135.30" font-size="7" font-style="italic" fill="#1e1e1e" stroke="#1e1e1e" stroke-width="0.1">Helaletes</text>
<text x="278.3" y="142.60" font-size="7" font-style="italic" fill="#1e1e1e" stroke="#1e1e1e" stroke-width="0.1">Rhodopagus pygmaeus</text>
<text x="278.3" y="149.90" font-size="7" font-style="italic" fill="#1e1e1e" stroke="#1e1e1e" stroke-width="0.1">Dilophodon minusculus</text>
<text x="278.3" y="157.20" font-size="7" font-style="italic" fill="#1e1e1e" stroke="#1e1e1e" stroke-width="0.1">Desmatotherium</text>
<text x="278.3" y="164.50" font-size="7" font-style="italic" fill="#9a9a9a" stroke="#9a9a9a" stroke-width="0.1">Paracolodon fissus*</text>
<text x="278.3" y="171.80" font-size="7" font-style="italic" fill="#1e1e1e" stroke="#1e1e1e" stroke-width="0.1">Plesiocolopirus hancocki</text>
<text x="278.3" y="179.10" font-size="7" font-style="italic" fill="#1e1e1e" stroke="#1e1e1e" stroke-width="0.1">Protapirus</text>
<text x="278.3" y="186.40" font-size="7" font-style="italic" fill="#1e1e1e" stroke="#1e1e1e" stroke-width="0.1">Colodon occidentalis</text>
<text x="278.3" y="193.70" font-size="7" font-style="italic" fill="#9a9a9a" stroke="#9a9a9a" stroke-width="0.1">Tapirus*</text>
<text x="278.3" y="201.00" font-size="7" font-style="italic" fill="#1e1e1e" stroke="#1e1e1e" stroke-width="0.1">Deperetella</text>
<text x="278.3" y="208.30" font-size="7" font-style="italic" fill="#9a9a9a" stroke="#9a9a9a" stroke-width="0.1">Irenolophus*</text>
<text x="278.3" y="215.60" font-size="7" font-style="italic" fill="#1e1e1e" stroke="#1e1e1e" stroke-width="0.1">Teleolophus medius</text>
<text x="278.3" y="222.90" font-size="7" font-style="italic" fill="#1e1e1e" stroke="#1e1e1e" stroke-width="0.1">Indolophus</text>
<text x="278.3" y="230.20" font-size="7" font-style="italic" fill="#1e1e1e" stroke="#1e1e1e" stroke-width="0.1">Breviodon acares</text>
<text x="278.3" y="237.50" font-size="7" font-style="italic" fill="#1e1e1e" stroke="#1e1e1e" stroke-width="0.1">Fouchia</text>
<text x="278.3" y="244.80" font-size="7" font-style="italic" fill="#1e1e1e" stroke="#1e1e1e" stroke-width="0.1">Minchenoletes erlianensis</text>
<text x="278.3" y="252.10" font-size="7" font-style="italic" fill="#e8323a" stroke="#e8323a" stroke-width="0.1">Yimengia</text>
<text x="278.3" y="259.40" font-size="7" font-style="italic" fill="#1e1e1e" stroke="#1e1e1e" stroke-width="0.1">Triplopus cubitalus</text>
<text x="278.3" y="266.70" font-size="7" font-style="italic" fill="#9a9a9a" stroke="#9a9a9a" stroke-width="0.1">Hyrachyus modestus*</text>
<text x="278.3" y="274.00" font-size="7" font-style="italic" fill="#1e1e1e" stroke="#1e1e1e" stroke-width="0.1">Uintaceras radinskyi</text>
<text x="278.3" y="281.30" font-size="7" font-style="italic" fill="#1e1e1e" stroke="#1e1e1e" stroke-width="0.1">Teletaceras</text>
<text x="278.3" y="288.60" font-size="7" font-style="italic" fill="#1e1e1e" stroke="#1e1e1e" stroke-width="0.1">Selenaletes scopaeus</text>
<text x="278.3" y="295.90" font-size="7" font-style="italic" fill="#e8323a" stroke="#e8323a" stroke-width="0.1">Triplopus? youjingensis</text>
<text x="278.3" y="303.20" font-size="7" font-style="italic" fill="#e8323a" stroke="#e8323a" stroke-width="0.1">Ephyrachyus</text>
<text x="278.3" y="310.50" font-size="7" font-style="italic" fill="#1e1e1e" stroke="#1e1e1e" stroke-width="0.1">Prohyracodon</text>
<text x="278.3" y="317.80" font-size="7" font-style="italic" fill="#1e1e1e" stroke="#1e1e1e" stroke-width="0.1">Ardynia</text>
<text x="278.3" y="325.10" font-size="7" font-style="italic" fill="#9a9a9a" stroke="#9a9a9a" stroke-width="0.1">Hyracodon nebraskensis*</text>
<text x="278.3" y="332.40" font-size="7" font-style="italic" fill="#1e1e1e" stroke="#1e1e1e" stroke-width="0.1">Epitriplopus uintensis</text>
<text x="278.3" y="339.70" font-size="7" font-style="italic" fill="#1e1e1e" stroke="#1e1e1e" stroke-width="0.1">Triplopides rieli</text>
<text x="278.3" y="347.00" font-size="7" font-style="italic" fill="#1e1e1e" stroke="#1e1e1e" stroke-width="0.1">Fostercooperia</text>
<text x="278.3" y="354.30" font-size="7" font-style="italic" fill="#e8323a" stroke="#e8323a" stroke-width="0.1">Gobiceras</text>
<text x="278.3" y="361.60" font-size="7" font-style="italic" fill="#9a9a9a" stroke="#9a9a9a" stroke-width="0.1">Pappaceras*</text>
<text x="278.3" y="368.90" font-size="7" font-style="italic" fill="#1e1e1e" stroke="#1e1e1e" stroke-width="0.1">Proeggysodon qiui</text>
<text x="278.3" y="376.20" font-size="7" font-style="italic" fill="#1e1e1e" stroke="#1e1e1e" stroke-width="0.1">Caenolophus promissus</text>
<text x="278.3" y="383.50" font-size="7" font-style="italic" fill="#1e1e1e" stroke="#1e1e1e" stroke-width="0.1">Rostriamynodon grangeri</text>
<text x="278.3" y="390.80" font-size="7" font-style="italic" fill="#9a9a9a" stroke="#9a9a9a" stroke-width="0.1">Sharamynodon*</text>
<text x="278.3" y="398.10" font-size="7" font-style="italic" fill="#1e1e1e" stroke="#1e1e1e" stroke-width="0.1">Amynodon</text>
<text x="278.3" y="405.40" font-size="7" font-style="italic" fill="#1e1e1e" stroke="#1e1e1e" stroke-width="0.1">Caducodon</text>
<text x="278.3" y="412.70" font-size="7" font-style="italic" fill="#1e1e1e" stroke="#1e1e1e" stroke-width="0.1">Paramynodon</text>
<text x="278.3" y="420.00" font-size="7" font-style="italic" fill="#1e1e1e" stroke="#1e1e1e" stroke-width="0.1">Metamynodon</text>
<text x="278.3" y="427.30" font-size="7" font-style="italic" fill="#1e1e1e" stroke="#1e1e1e" stroke-width="0.1">Eggysodon</text>
<text x="278.3" y="434.60" font-size="7" font-style="italic" fill="#1e1e1e" stroke="#1e1e1e" stroke-width="0.1">Juxia</text>
<text x="278.3" y="441.90" font-size="7" font-style="italic" fill="#1e1e1e" stroke="#1e1e1e" stroke-width="0.1">Urtinotherium</text>
<text x="278.3" y="449.20" font-size="7" font-style="italic" fill="#9a9a9a" stroke="#9a9a9a" stroke-width="0.1">Paraceratherium*</text>
<text x="278.3" y="456.50" font-size="7" font-style="italic" fill="#1e1e1e" stroke="#1e1e1e" stroke-width="0.1">Trigonias</text>
<text x="278.3" y="463.80" font-size="7" font-style="italic" fill="#1e1e1e" stroke="#1e1e1e" stroke-width="0.1">Subhyracodon occidentalis</text>
<text x="278.3" y="471.10" font-size="7" font-style="italic" fill="#1e1e1e" stroke="#1e1e1e" stroke-width="0.1">Menoceras arikarense</text>
<text x="278.3" y="478.40" font-size="7" font-style="italic" fill="#9a9a9a" stroke="#9a9a9a" stroke-width="0.1">Rhinoceros unicornis*</text>
<text x="22.80" y="37.60" font-size="7.8" text-anchor="middle" fill="#1a1a1a" stroke="#1a1a1a" stroke-width="0.15">&gt;5</text>
<text x="33.40" y="47.80" font-size="7.8" text-anchor="middle" fill="#1a1a1a" stroke="#1a1a1a" stroke-width="0.15">3</text>
<text x="43.50" y="60.20" font-size="7.8" text-anchor="middle" fill="#1a1a1a" stroke="#1a1a1a" stroke-width="0.15">3</text>
<text x="52.70" y="71.00" font-size="7.8" text-anchor="middle" fill="#1a1a1a" stroke="#1a1a1a" stroke-width="0.15">3</text>
<text x="63.50" y="82.80" font-size="7.8" text-anchor="middle" fill="#1a1a1a" stroke="#1a1a1a" stroke-width="0.15">3</text>
<text x="74.70" y="97.10" font-size="7.8" text-anchor="middle" fill="#1a1a1a" stroke="#1a1a1a" stroke-width="0.15">2</text>
<text x="83.90" y="118.50" font-size="7.8" text-anchor="middle" fill="#1a1a1a" stroke="#1a1a1a" stroke-width="0.15">3</text>
<text x="95.00" y="139.70" font-size="7.8" text-anchor="middle" fill="#1a1a1a" stroke="#1a1a1a" stroke-width="0.15">A</text>
<text x="95.00" y="149.70" font-size="7.8" text-anchor="middle" fill="#1a1a1a" stroke="#1a1a1a" stroke-width="0.15">3</text>
<text x="105.40" y="182.90" font-size="7.8" text-anchor="middle" fill="#1a1a1a" stroke="#1a1a1a" stroke-width="0.15">C</text>
<text x="106.70" y="195.00" font-size="7.8" text-anchor="middle" fill="#1a1a1a" stroke="#1a1a1a" stroke-width="0.15">3</text>
<text x="115.40" y="242.10" font-size="7.8" text-anchor="middle" fill="#1a1a1a" stroke="#1a1a1a" stroke-width="0.15">H</text>
<text x="116.40" y="250.50" font-size="7.8" text-anchor="middle" fill="#1a1a1a" stroke="#1a1a1a" stroke-width="0.15">2</text>
<text x="125.60" y="267.20" font-size="7.8" text-anchor="middle" fill="#1a1a1a" stroke="#1a1a1a" stroke-width="0.15">2</text>
<text x="135.20" y="270.50" font-size="7.8" text-anchor="middle" fill="#1a1a1a" stroke="#1a1a1a" stroke-width="0.15">I</text>
<text x="135.20" y="280.10" font-size="7.8" text-anchor="middle" fill="#1a1a1a" stroke="#1a1a1a" stroke-width="0.15">2</text>
<text x="146.00" y="280.10" font-size="7.8" text-anchor="middle" fill="#1a1a1a" stroke="#1a1a1a" stroke-width="0.15">J</text>
<text x="176.90" y="317.60" font-size="7.8" text-anchor="middle" fill="#1a1a1a" stroke="#1a1a1a" stroke-width="0.15">K</text>
<text x="186.40" y="343.60" font-size="7.8" text-anchor="middle" fill="#1a1a1a" stroke="#1a1a1a" stroke-width="0.15">L</text>
<text x="197.20" y="377.60" font-size="7.8" text-anchor="middle" fill="#1a1a1a" stroke="#1a1a1a" stroke-width="0.15">N</text>
<text x="207.40" y="405.80" font-size="7.8" text-anchor="middle" fill="#1a1a1a" stroke="#1a1a1a" stroke-width="0.15">P</text>
<text x="176.60" y="126.60" font-size="7.8" text-anchor="middle" fill="#1a1a1a" stroke="#1a1a1a" stroke-width="0.15">D</text>
<text x="176.00" y="136.60" font-size="7.8" text-anchor="middle" fill="#1a1a1a" stroke="#1a1a1a" stroke-width="0.15">2</text>
<text x="187.30" y="145.70" font-size="7.8" text-anchor="middle" fill="#1a1a1a" stroke="#1a1a1a" stroke-width="0.15">2</text>
<text x="206.80" y="172.90" font-size="7.8" text-anchor="middle" fill="#1a1a1a" stroke="#1a1a1a" stroke-width="0.15">2</text>
<text x="218.10" y="177.10" font-size="7.8" text-anchor="middle" fill="#1a1a1a" stroke="#1a1a1a" stroke-width="0.15">F</text>
<text x="218.00" y="187.10" font-size="7.8" text-anchor="middle" fill="#1a1a1a" stroke="#1a1a1a" stroke-width="0.15">5</text>
<text x="228.50" y="195.00" font-size="7.8" text-anchor="middle" fill="#1a1a1a" stroke="#1a1a1a" stroke-width="0.15">&gt;5</text>
<text x="238.20" y="196.00" font-size="7.8" text-anchor="middle" fill="#1a1a1a" stroke="#1a1a1a" stroke-width="0.15">G</text>
<text x="238.00" y="204.30" font-size="7.8" text-anchor="middle" fill="#1a1a1a" stroke="#1a1a1a" stroke-width="0.15">2</text>
<text x="247.70" y="212.20" font-size="7.8" text-anchor="middle" fill="#1a1a1a" stroke="#1a1a1a" stroke-width="0.15">&gt;5</text>
<text x="257.80" y="196.00" font-size="7.8" text-anchor="middle" fill="#1a1a1a" stroke="#1a1a1a" stroke-width="0.15">&gt;5</text>
<text x="258.00" y="218.10" font-size="7.8" text-anchor="middle" fill="#1a1a1a" stroke="#1a1a1a" stroke-width="0.15">2</text>
<text x="247.70" y="150.50" font-size="7.8" text-anchor="middle" fill="#1a1a1a" stroke="#1a1a1a" stroke-width="0.15">E</text>
<text x="247.70" y="159.70" font-size="7.8" text-anchor="middle" fill="#1a1a1a" stroke="#1a1a1a" stroke-width="0.15">2</text>
<text x="258.60" y="151.70" font-size="7.8" text-anchor="middle" fill="#1a1a1a" stroke="#1a1a1a" stroke-width="0.15">2</text>
<text x="258.60" y="165.60" font-size="7.8" text-anchor="middle" fill="#1a1a1a" stroke="#1a1a1a" stroke-width="0.15">2</text>
<text x="237.40" y="94.20" font-size="7.8" text-anchor="middle" fill="#1a1a1a" stroke="#1a1a1a" stroke-width="0.15">B</text>
<text x="237.40" y="104.50" font-size="7.8" text-anchor="middle" fill="#1a1a1a" stroke="#1a1a1a" stroke-width="0.15">3</text>
<text x="247.70" y="109.90" font-size="7.8" text-anchor="middle" fill="#1a1a1a" stroke="#1a1a1a" stroke-width="0.15">&gt;5</text>
<text x="258.60" y="115.40" font-size="7.8" text-anchor="middle" fill="#1a1a1a" stroke="#1a1a1a" stroke-width="0.15">2</text>
<text x="258.60" y="86.10" font-size="7.8" text-anchor="middle" fill="#1a1a1a" stroke="#1a1a1a" stroke-width="0.15">4</text>
<text x="259.90" y="50.00" font-size="7.8" text-anchor="middle" fill="#1a1a1a" stroke="#1a1a1a" stroke-width="0.15">3</text>
<text x="248.20" y="234.60" font-size="7.8" text-anchor="middle" fill="#1a1a1a" stroke="#1a1a1a" stroke-width="0.15">2</text>
<text x="258.60" y="239.90" font-size="7.8" text-anchor="middle" fill="#1a1a1a" stroke="#1a1a1a" stroke-width="0.15">2</text>
<text x="248.60" y="256.60" font-size="7.8" text-anchor="middle" fill="#1a1a1a" stroke="#1a1a1a" stroke-width="0.15">3</text>
<text x="259.90" y="261.70" font-size="7.8" text-anchor="middle" fill="#1a1a1a" stroke="#1a1a1a" stroke-width="0.15">3</text>
<text x="227.30" y="311.30" font-size="7.8" text-anchor="middle" fill="#1a1a1a" stroke="#1a1a1a" stroke-width="0.15">M</text>
<text x="237.20" y="329.70" font-size="7.8" text-anchor="middle" fill="#1a1a1a" stroke="#1a1a1a" stroke-width="0.15">2</text>
<text x="259.90" y="341.40" font-size="7.8" text-anchor="middle" fill="#1a1a1a" stroke="#1a1a1a" stroke-width="0.15">3</text>
<text x="248.60" y="349.20" font-size="7.8" text-anchor="middle" fill="#1a1a1a" stroke="#1a1a1a" stroke-width="0.15">O</text>
<text x="248.60" y="357.90" font-size="7.8" text-anchor="middle" fill="#1a1a1a" stroke="#1a1a1a" stroke-width="0.15">2</text>
<text x="218.10" y="378.00" font-size="7.8" text-anchor="middle" fill="#1a1a1a" stroke="#1a1a1a" stroke-width="0.15">Q</text>
<text x="218.10" y="386.60" font-size="7.8" text-anchor="middle" fill="#1a1a1a" stroke="#1a1a1a" stroke-width="0.15">2</text>
<text x="227.30" y="396.00" font-size="7.8" text-anchor="middle" fill="#1a1a1a" stroke="#1a1a1a" stroke-width="0.15">3</text>
<text x="237.50" y="403.90" font-size="7.8" text-anchor="middle" fill="#1a1a1a" stroke="#1a1a1a" stroke-width="0.15">2</text>
<text x="258.60" y="418.20" font-size="7.8" text-anchor="middle" fill="#1a1a1a" stroke="#1a1a1a" stroke-width="0.15">5</text>
<text x="218.10" y="435.40" font-size="7.8" text-anchor="middle" fill="#1a1a1a" stroke="#1a1a1a" stroke-width="0.15">R</text>
<text x="218.10" y="445.00" font-size="7.8" text-anchor="middle" fill="#1a1a1a" stroke="#1a1a1a" stroke-width="0.15">2</text>
<text x="228.50" y="448.00" font-size="7.8" text-anchor="middle" fill="#1a1a1a" stroke="#1a1a1a" stroke-width="0.15">S</text>
<text x="228.50" y="457.20" font-size="7.8" text-anchor="middle" fill="#1a1a1a" stroke="#1a1a1a" stroke-width="0.15">2</text>
<text x="249.40" y="437.10" font-size="7.8" text-anchor="middle" fill="#1a1a1a" stroke="#1a1a1a" stroke-width="0.15">T</text>
<text x="249.40" y="446.00" font-size="7.8" text-anchor="middle" fill="#1a1a1a" stroke="#1a1a1a" stroke-width="0.15">4</text>
<text x="258.60" y="450.50" font-size="7.8" text-anchor="middle" fill="#1a1a1a" stroke="#1a1a1a" stroke-width="0.15">&gt;5</text>
<text x="237.70" y="460.00" font-size="7.8" text-anchor="middle" fill="#1a1a1a" stroke="#1a1a1a" stroke-width="0.15">U</text>
<text x="237.20" y="468.90" font-size="7.8" text-anchor="middle" fill="#1a1a1a" stroke="#1a1a1a" stroke-width="0.15">4</text>
<text x="248.90" y="474.70" font-size="7.8" text-anchor="middle" fill="#1a1a1a" stroke="#1a1a1a" stroke-width="0.15">4</text>
<text x="260.00" y="481.10" font-size="7.8" text-anchor="middle" fill="#1a1a1a" stroke="#1a1a1a" stroke-width="0.15">5</text>
<text x="372.4" y="52.50" font-size="10" fill="#b88f5e" stroke="#b88f5e" stroke-width="0.22" >‘Isectolophidae’</text>
<text x="372" y="102.50" font-size="10" fill="#9b9b9b" stroke="#9b9b9b" stroke-width="0.22" >Lophialetidae</text>
<text x="372" y="142.90" font-size="10" fill="#97bf55" stroke="#97bf55" stroke-width="0.22" >‘Helaletidae’</text>
<text x="372.6" y="191.50" font-size="10" fill="#45b597" stroke="#45b597" stroke-width="0.22" >Tapiridae</text>
<text x="372.6" y="213.50" font-size="10" fill="#c5ebbf" stroke="#c5ebbf" stroke-width="0.22" >Deperetellidae</text>
<text x="372" y="240.50" font-size="10" fill="#d9323c" stroke="#d9323c" stroke-width="0.22" >‘early</text>
<text x="372" y="252.50" font-size="10" fill="#d9323c" stroke="#d9323c" stroke-width="0.22" >Rhinocerotoidea (<tspan font-style="italic">s.l.</tspan>)’</text>
<text x="372" y="278.10" font-size="10" fill="#e3923a" stroke="#e3923a" stroke-width="0.22" >‘early</text>
<text x="372" y="290.10" font-size="10" fill="#e3923a" stroke="#e3923a" stroke-width="0.22" >Rhinocerotoidea (<tspan font-style="italic">s.s.</tspan>)’</text>
<text x="372" y="323.10" font-size="10" fill="#efb9b9" stroke="#efb9b9" stroke-width="0.22" >Hyracodontidae</text>
<text x="372" y="355.10" font-size="10" fill="#9fc4f2" stroke="#9fc4f2" stroke-width="0.22" >Forstercooperiidae</text>
<text x="372" y="391.90" font-size="10" fill="#4fb5bd" stroke="#4fb5bd" stroke-width="0.22" >Amynodontidae</text>
<text x="372" y="445.50" font-size="10" fill="#5b86dc" stroke="#5b86dc" stroke-width="0.22" >Paraceratheriidae</text>
<text x="372" y="474.10" font-size="10" fill="#47bcb3" stroke="#47bcb3" stroke-width="0.22" >Rhinocerotidae</text>
<text x="24" y="171.68" font-size="10.5" fill="#0a0a0a" stroke="#0a0a0a" stroke-width="0.22" >Ceratomorpha</text>
<text x="6.6" y="212.68" font-size="10.5" fill="#0a0a0a" stroke="#0a0a0a" stroke-width="0.22" >Crown Ceratomorpha</text>
<text x="134.3" y="153.88" font-size="10.5" fill="#0a0a0a" stroke="#0a0a0a" stroke-width="0.22" >Tapiroidea</text>
<text x="16.4" y="267.88" font-size="10.5" fill="#0a0a0a" stroke="#0a0a0a" stroke-width="0.22" >Rhinocerotoidea (<tspan font-style="italic">s.l.</tspan>)</text>
<text x="40.1" y="298.68" font-size="10.5" fill="#0a0a0a" stroke="#0a0a0a" stroke-width="0.22" >Rhinocerotoidea (<tspan font-style="italic">s.s.</tspan>)</text>
<text x="77.7" y="376.38" font-size="10.5" fill="#0a0a0a" stroke="#0a0a0a" stroke-width="0.22" >‘True Rhinocerotoidea’</text>
<line x1="83" y1="161.6" x2="91" y2="149" stroke="#111" stroke-width="1.1"/>
<line x1="97" y1="201" x2="104" y2="189" stroke="#111" stroke-width="1.1"/>
<line x1="164.4" y1="142.7" x2="171.1" y2="132.2" stroke="#111" stroke-width="1.1"/>
<line x1="107.2" y1="256" x2="113.1" y2="246.8" stroke="#111" stroke-width="1.1"/>
<line x1="125.9" y1="288.1" x2="132.6" y2="279.2" stroke="#111" stroke-width="1.1"/>
<line x1="179" y1="362.7" x2="183.3" y2="353.3" stroke="#111" stroke-width="1.1"/>
<rect x="23.3" y="427.00" width="11" height="6.8" fill="#5aa2f0"/>
<text x="39.5" y="433.69" font-size="9.4" fill="#1a1a1a" stroke="#1a1a1a" stroke-width="0.22" >North America</text>
<rect x="23.3" y="442.20" width="11" height="6.8" fill="#f4c07c"/>
<text x="39.5" y="448.89" font-size="9.4" fill="#1a1a1a" stroke="#1a1a1a" stroke-width="0.22" >Non-India Asia</text>
<rect x="23.3" y="455.50" width="11" height="6.8" fill="#64e046"/>
<text x="39.5" y="462.19" font-size="9.4" fill="#1a1a1a" stroke="#1a1a1a" stroke-width="0.22" >Indian-subcontinent</text>
<rect x="23.3" y="469.00" width="11" height="6.8" fill="#0a0a0a"/>
<text x="39.5" y="475.69" font-size="9.4" fill="#1a1a1a" stroke="#1a1a1a" stroke-width="0.22" >Europe</text>
<path d="M452.0,49.2 C465.8,49.5 480.6,49.0 493.3,50.0 C506.0,51.0 517.8,52.8 528.0,55.3 C538.2,57.8 547.2,60.0 554.7,64.7 C562.2,69.4 568.4,77.1 573.3,83.3 C578.2,89.5 581.8,95.8 584.0,102.0 C586.2,108.2 587.2,113.0 586.7,120.7 C586.2,128.3 583.1,138.8 581.3,147.9" fill="none" stroke="#c28a4c" stroke-width="1.7" stroke-dasharray="2.2,2.4"/>
<path d="M550.7,98.0 C555.6,102.9 561.1,107.2 565.3,112.7 C569.5,118.2 573.3,125.4 576.0,131.3 C578.7,137.2 580.3,142.3 581.3,147.9 C582.3,153.5 582.5,158.8 582.0,165.0 C581.5,171.2 580.4,178.5 578.0,185.0 C575.6,191.5 570.9,197.7 567.4,204.0" fill="none" stroke="#9a9a9a" stroke-width="1.1"/>
<path d="M501.3,134.0 C504.9,139.3 509.7,145.7 512.0,150.0 C514.3,154.3 514.6,156.8 515.1,159.8 C515.6,162.8 515.8,163.8 515.1,168.0 C514.4,172.2 513.0,180.4 511.0,185.0 C509.0,189.6 505.6,192.1 502.9,195.7" fill="none" stroke="#86c63a" stroke-width="1.5" stroke-dasharray="2,2"/>
<path d="M515.1,159.8 C523.0,164.2 531.1,166.8 538.8,172.9 C546.5,179.0 555.8,189.5 561.5,196.5 C567.2,203.5 569.8,208.6 572.9,215.0 C576.0,221.4 578.2,228.8 580.0,235.0 C581.8,241.2 582.9,246.5 583.6,252.0 C584.3,257.5 584.6,262.8 584.2,268.0 C583.8,273.2 582.8,278.6 581.4,283.5 C580.0,288.4 577.5,292.8 575.6,297.5" fill="none" stroke="#111" stroke-width="1.6"/>
<path d="M491.6,170.0 C494.1,172.0 497.0,173.3 499.0,176.0 C501.0,178.7 503.2,182.7 503.8,186.0 C504.4,189.3 503.2,192.5 502.9,195.7" fill="none" stroke="#2fb38a" stroke-width="1.3"/>
<path d="M502.9,195.7 C503.2,198.3 504.4,200.7 503.8,203.6 C503.2,206.5 501.0,210.2 499.0,213.0 C497.0,215.8 494.1,217.9 491.6,220.4" fill="none" stroke="#a9e3a4" stroke-width="1.2"/>
<path d="M550.8,260.0 C555.5,265.5 560.9,270.1 565.0,276.4 C569.1,282.6 572.1,290.5 575.6,297.5" fill="none" stroke="#111" stroke-width="1.4" stroke-dasharray="2.4,2"/>
<path d="M575.6,297.5 C576.1,300.0 577.3,301.0 577.1,305.0 C576.9,309.0 576.0,315.9 574.2,321.4 C572.4,326.9 569.0,332.4 566.4,337.9" fill="none" stroke="#111" stroke-width="1.4" stroke-dasharray="2.4,2"/>
<path d="M546.0,310.7 C549.6,314.9 553.5,318.8 556.7,323.3 C559.9,327.8 563.3,332.4 565.4,337.9 C567.5,343.4 569.0,350.4 569.3,356.4 C569.6,362.4 569.3,368.2 567.4,373.9 C565.5,379.6 560.9,385.0 557.7,390.5" fill="none" stroke="#e6b4b4" stroke-width="1.2"/>
<path d="M536.3,348.6 C539.9,353.2 543.9,357.4 547.0,362.3 C550.1,367.2 552.9,373.1 554.7,377.8 C556.5,382.5 557.2,386.5 557.7,390.5 C558.2,394.5 558.5,397.5 557.9,401.7 C557.3,405.9 556.3,411.2 554.4,415.7 C552.5,420.2 548.9,424.3 546.2,428.6" fill="none" stroke="#8ec0f2" stroke-width="1.2"/>
<path d="M525.2,391.2 C528.7,396.3 532.6,401.3 535.7,406.4 C538.8,411.4 542.0,416.8 543.9,421.5 C545.8,426.2 546.7,430.1 546.9,434.4 C547.1,438.7 546.5,442.7 545.0,447.2 C543.5,451.7 540.3,456.6 538.0,461.3" fill="none" stroke="#4db6be" stroke-width="1.2"/>
<path d="M522.9,432.1 C526.4,436.4 530.9,440.2 533.4,444.9 C535.9,449.6 536.5,455.0 538.0,460.1" fill="none" stroke="#4a6fdc" stroke-width="1.3"/>
<path d="M536.9,463.6 C537.7,465.5 539.2,466.7 539.2,469.4 C539.2,472.1 538.3,476.7 536.9,480.0 C535.5,483.3 533.1,486.3 531.0,489.3 C528.9,492.3 526.3,495.0 524.0,497.9" fill="none" stroke="#3cbcc0" stroke-width="1.3"/>
<circle cx="581.4" cy="147.7" r="2.7" fill="#0a0a0a"/>
<circle cx="515.1" cy="159.8" r="2.7" fill="#0a0a0a"/>
<circle cx="575.4" cy="297.5" r="2.7" fill="#0a0a0a"/>
<text transform="translate(545.5,169.5) rotate(39)" x="0" y="3.6" text-anchor="middle" font-size="10.5" fill="#0a0a0a" stroke="#0a0a0a" stroke-width="0.22">Tapiroidea</text>
<text transform="translate(583.5,346.8) rotate(-80)" x="0" y="3.5" text-anchor="middle" font-size="10.3" fill="#0a0a0a" stroke="#0a0a0a" stroke-width="0.2">Rhinocerotoidea (<tspan font-style="italic">s.l.</tspan>)</text>
<path d="M517.0,82.6 C518.4,81.5 526.0,79.1 529.0,78.3 C532.0,77.5 541.2,75.4 543.6,75.2 C546.0,75.0 549.3,76.1 550.3,76.7 C551.3,77.3 552.8,79.4 552.9,80.3 C553.0,81.2 551.7,83.8 551.5,85.0 C551.3,86.2 551.6,90.8 551.0,91.5 C550.4,92.2 547.0,90.7 546.0,91.0 C545.0,91.3 542.4,92.9 542.0,94.0 C541.6,95.1 542.9,99.6 542.8,101.0 C542.7,102.4 542.4,106.1 541.5,107.0 C540.6,107.9 537.4,109.2 535.0,109.5 C532.6,109.8 523.1,109.9 520.0,109.8 C516.9,109.7 509.7,109.1 507.4,108.7 C505.1,108.3 500.2,107.1 499.0,106.5 C497.8,105.9 496.7,104.2 496.6,103.5 C496.5,102.8 497.6,100.7 498.5,100.0 C499.4,99.3 503.5,98.1 505.0,97.5 C506.5,96.9 510.8,95.4 512.0,95.0 C513.2,94.6 515.5,94.3 516.0,93.5 C516.5,92.7 516.4,89.2 516.5,88.0 C516.6,86.8 515.6,83.7 517.0,82.6Z" fill="#a8a8a8" stroke="#4a4a4a" stroke-width="0.8" stroke-linejoin="round"/>
<path d="M499.0,104.5 C500.4,103.9 515.3,103.6 520.0,103.0 C524.7,102.4 539.1,98.6 541.5,99.0 C543.9,99.4 542.2,105.8 541.5,107.0 C540.8,108.2 537.4,109.2 535.0,109.5 C532.6,109.8 523.1,109.9 520.0,109.8 C516.9,109.7 509.7,109.3 507.4,108.7 C505.1,108.1 497.6,105.1 499.0,104.5Z" fill="#929292" stroke="none" stroke-width="0" stroke-linejoin="round"/>
<path d="M500.2,86.5 L508.0,84.6 L514.7,83.4 L518.0,82.6" fill="none" stroke="#666" stroke-width="1.3" stroke-linecap="round" stroke-linejoin="round"/>
<ellipse cx="525.5" cy="88.3" rx="5.6" ry="4.8" fill="#2a2a2a"/>
<path d="M517.0,98.0 L525.0,95.0 L533.0,90.0 L541.0,85.0" fill="none" stroke="#cfcfcf" stroke-width="1.5" stroke-linecap="round" stroke-linejoin="round"/>
<path d="M517.0,100.0 L533.0,93.0" fill="none" stroke="#555" stroke-width="0.8" stroke-linecap="round" stroke-linejoin="round"/>
<ellipse cx="503.8" cy="103.3" rx="3.6" ry="2" fill="#fafafa"/>
<ellipse cx="527" cy="99.6" rx="1.4" ry="1.1" fill="#fff"/>
<ellipse cx="548" cy="88" rx="2" ry="2.5" fill="#333"/>
<line x1="505.4" y1="111.8" x2="534.8" y2="111.8" stroke="#111" stroke-width="1.8"/>
<path d="M460.5,118.1 C461.8,117.0 467.5,115.0 470.1,114.4 C472.7,113.8 481.4,112.9 484.0,112.8 C486.6,112.7 492.4,112.6 493.6,113.3 C494.8,114.0 494.8,117.5 495.2,118.7 C495.6,119.9 496.9,122.9 497.0,124.0 C497.1,125.1 496.6,128.3 495.7,129.0 C494.8,129.7 489.7,129.4 489.0,130.0 C488.3,130.6 489.0,133.4 489.3,134.7 C489.6,136.0 492.7,141.0 491.5,142.1 C490.3,143.2 482.5,144.1 478.7,144.3 C474.9,144.5 461.3,144.2 457.3,143.7 C453.3,143.2 444.1,140.7 442.4,140.2 C440.7,139.7 440.9,139.3 441.9,138.9 C442.9,138.5 450.5,137.7 451.0,137.0 C451.5,136.3 447.8,133.6 446.7,133.0 C445.6,132.4 440.8,132.6 440.8,132.0 C440.8,131.4 445.5,128.4 446.7,127.7 C447.9,127.0 450.7,126.5 452.0,126.1 C453.3,125.7 457.6,125.4 458.5,124.5 C459.4,123.6 459.2,119.2 460.5,118.1Z" fill="#b4b4b4" stroke="#555" stroke-width="0.8" stroke-linejoin="round"/>
<path d="M458.0,132.0 C460.8,130.8 471.6,130.4 475.0,130.0 C478.4,129.6 487.4,127.5 489.0,128.0 C490.6,128.5 489.0,133.1 489.3,134.7 C489.6,136.3 492.7,141.0 491.5,142.1 C490.3,143.2 482.5,144.1 478.7,144.3 C474.9,144.5 460.5,144.1 457.3,143.7 C454.1,143.3 449.9,142.3 450.0,141.0 C450.1,139.7 455.2,133.2 458.0,132.0Z" fill="#7c7c7c" stroke="none" stroke-width="0" stroke-linejoin="round"/>
<path d="M440.8,132.0 C440.8,131.4 445.5,128.4 446.7,127.7 C447.9,127.0 450.7,126.5 452.0,126.1 C453.3,125.7 457.7,123.6 458.5,124.5 C459.3,125.4 459.8,132.6 459.0,134.0 C458.2,135.4 452.4,137.1 451.0,137.0 C449.6,136.9 447.8,133.6 446.7,133.0 C445.6,132.4 440.8,132.6 440.8,132.0Z" fill="#dadada" stroke="none" stroke-width="0" stroke-linejoin="round"/>
<path d="M442.4,140.2 C441.7,139.6 449.3,138.7 451.0,138.5 C452.7,138.3 457.3,137.4 458.0,138.0 C458.7,138.6 459.0,143.5 457.3,143.7 C455.6,143.9 443.1,140.8 442.4,140.2Z" fill="#bdbdbd" stroke="none" stroke-width="0" stroke-linejoin="round"/>
<path d="M440.3,121.3 L448.8,119.2 L457.3,119.2 L461.0,120.5" fill="none" stroke="#c0c0c0" stroke-width="1.5" stroke-linecap="round" stroke-linejoin="round"/>
<ellipse cx="466.9" cy="124.2" rx="6" ry="5" fill="#2a2a2a"/>
<ellipse cx="467.5" cy="124.5" rx="3.2" ry="2.6" fill="#6a6a6a"/>
<path d="M458.0,133.0 L470.0,131.0 L482.0,126.0 L490.0,121.0" fill="none" stroke="#c8c8c8" stroke-width="1.5" stroke-linecap="round" stroke-linejoin="round"/>
<ellipse cx="494" cy="126" rx="2.8" ry="3.2" fill="#1e1e1e"/>
<ellipse cx="447" cy="137.6" rx="4" ry="1.1" fill="#fafafa"/>
<ellipse cx="473" cy="134" rx="1.2" ry="2" fill="#fff"/>
<line x1="465.9" y1="147.5" x2="496.8" y2="147.5" stroke="#111" stroke-width="1.8"/>
<path d="M433.1,175.8 C433.4,174.8 436.9,171.4 438.3,170.7 C439.7,170.0 444.0,169.3 445.5,169.1 C447.0,168.9 451.1,169.9 451.7,168.6 C452.3,167.3 450.1,159.0 450.7,157.7 C451.3,156.4 455.4,157.0 456.9,156.7 C458.4,156.4 461.9,154.9 464.1,154.6 C466.3,154.3 474.1,153.9 476.5,154.1 C478.9,154.3 484.7,155.4 485.8,156.2 C486.9,157.0 486.7,160.0 486.8,161.4 C486.9,162.8 486.6,167.6 486.3,168.6 C486.0,169.6 483.8,169.6 483.7,170.7 C483.6,171.8 485.9,177.4 485.8,178.9 C485.7,180.4 484.3,183.4 482.7,184.1 C481.1,184.8 474.9,185.6 471.3,185.6 C467.7,185.6 454.7,184.7 450.7,184.1 C446.7,183.5 437.2,180.9 435.2,180.0 C433.2,179.1 432.8,176.8 433.1,175.8Z" fill="#d6d6d6" stroke="#333" stroke-width="0.9" stroke-linejoin="round"/>
<path d="M445.0,172.0 C447.4,171.0 465.2,169.3 468.0,170.0 C470.8,170.7 472.4,177.0 470.0,178.0 C467.6,179.0 448.8,179.7 446.0,179.0 C443.2,178.3 442.6,173.0 445.0,172.0Z" fill="#a6a6a6" stroke="none" stroke-width="0" stroke-linejoin="round"/>
<ellipse cx="462" cy="166" rx="4.6" ry="5" fill="#262626"/>
<path d="M449.5,157.0 L456.0,156.5 L462.0,158.0 L458.0,162.0 L454.0,166.0 L451.5,163.0Z" fill="#3a3a3a" stroke="none" stroke-width="0" stroke-linejoin="round"/>
<path d="M452.0,171.0 L462.0,170.0 L474.0,165.0 L484.0,161.0" fill="none" stroke="#eee" stroke-width="1.5" stroke-linecap="round" stroke-linejoin="round"/>
<path d="M452.0,172.5 L474.0,167.0 L484.0,163.0" fill="none" stroke="#555" stroke-width="0.7" stroke-linecap="round" stroke-linejoin="round"/>
<ellipse cx="441.5" cy="176" rx="3.6" ry="1.8" fill="#fafafa"/>
<ellipse cx="471" cy="177" rx="1.2" ry="1.8" fill="#fff"/>
<line x1="433.1" y1="186.7" x2="447" y2="186.7" stroke="#111" stroke-width="1.8"/>
<path d="M439.5,212.4 C440.8,211.3 449.3,208.2 452.0,207.0 C454.7,205.8 461.4,202.6 464.0,201.7 C466.6,200.8 472.9,199.0 475.0,198.5 C477.1,198.0 482.0,196.7 483.2,196.9 C484.4,197.1 485.2,198.3 485.5,200.0 C485.8,201.7 486.4,210.7 485.9,212.4 C485.4,214.1 481.4,213.3 481.0,215.0 C480.6,216.7 483.3,225.8 482.1,227.3 C480.9,228.8 473.2,228.6 470.0,228.5 C466.8,228.4 456.3,227.1 453.3,226.8 C450.3,226.5 444.3,226.0 443.0,225.5 C441.7,225.0 440.8,223.0 441.6,222.5 C442.4,222.0 449.7,221.4 450.0,221.0 C450.3,220.6 445.1,219.5 444.0,219.0 C442.9,218.5 440.5,217.2 440.0,216.5 C439.5,215.8 438.2,213.5 439.5,212.4Z" fill="#e4e4e4" stroke="#8a8a8a" stroke-width="0.8" stroke-linejoin="round"/>
<path d="M463.0,208.0 L466.0,204.0 L472.0,204.0 L474.0,210.0 L470.0,214.0 L480.0,212.0" fill="none" stroke="#8a8a8a" stroke-width="0.9" stroke-linecap="round" stroke-linejoin="round"/>
<path d="M449.0,219.0 L472.0,217.0" fill="none" stroke="#9a9a9a" stroke-width="1.0" stroke-linecap="round" stroke-linejoin="round"/>
<path d="M470.0,199.0 L477.0,207.0 L481.0,215.0" fill="none" stroke="#9a9a9a" stroke-width="0.8" stroke-linecap="round" stroke-linejoin="round"/>
<line x1="438.9" y1="231.1" x2="459.7" y2="231.1" stroke="#7a7a7a" stroke-width="1.3"/>
<path d="M493.7,254.1 C493.9,253.3 498.1,251.7 500.0,251.0 C501.9,250.3 507.4,248.6 510.7,247.9 C514.0,247.2 525.7,245.5 530.0,245.0 C534.3,244.5 547.2,242.8 549.2,243.4 C551.2,244.0 548.0,248.4 548.0,250.0 C548.0,251.6 550.0,256.4 549.2,257.5 C548.4,258.6 541.7,258.8 541.0,260.0 C540.3,261.2 543.0,266.3 543.0,268.0 C543.0,269.7 543.3,274.3 541.3,275.1 C539.3,275.9 528.4,275.6 525.0,275.5 C521.6,275.4 514.1,275.2 510.7,274.5 C507.3,273.8 496.3,270.1 494.8,268.9 C493.3,267.7 497.0,264.9 497.0,264.0 C497.0,263.1 494.9,261.7 495.0,261.0 C495.1,260.3 498.1,258.8 498.0,258.0 C497.9,257.2 493.5,254.9 493.7,254.1Z" fill="#dadada" stroke="#7a7a7a" stroke-width="0.9" stroke-linejoin="round"/>
<path d="M526.0,258.0 C527.3,256.7 534.2,255.6 536.0,256.0 C537.8,256.4 541.2,260.4 542.0,262.0 C542.8,263.6 543.3,268.6 543.0,270.0 C542.7,271.4 540.7,274.4 539.0,275.0 C537.3,275.6 529.7,276.3 528.0,275.5 C526.3,274.7 524.2,269.9 524.0,268.0 C523.8,266.1 524.7,259.3 526.0,258.0Z" fill="#e6e6e6" stroke="#8a8a8a" stroke-width="0.8" stroke-linejoin="round"/>
<path d="M512.0,256.0 L515.0,250.0 L522.0,249.0 L528.0,253.0 L540.0,252.0" fill="none" stroke="#666" stroke-width="1.2" stroke-linecap="round" stroke-linejoin="round"/>
<path d="M498.0,263.0 L522.0,262.0" fill="none" stroke="#777" stroke-width="2.2" stroke-linecap="round" stroke-linejoin="round"/>
<path d="M498.0,263.0 L522.0,262.0" fill="none" stroke="#fafafa" stroke-width="1.0" stroke-linecap="round" stroke-linejoin="round"/>
<ellipse cx="499.5" cy="262.5" rx="2.5" ry="1.8" fill="#fafafa"/>
<line x1="494.2" y1="276.8" x2="521.4" y2="276.8" stroke="#808080" stroke-width="1.5"/>
<path d="M489.4,302.2 C490.0,301.4 496.0,297.9 499.0,297.1 C502.0,296.3 512.2,295.2 516.0,294.8 C519.8,294.4 529.9,293.4 533.0,293.1 C536.1,292.8 542.9,291.8 543.8,292.5 C544.7,293.2 541.2,297.4 541.0,299.3 C540.8,301.2 542.7,308.3 542.1,309.5 C541.5,310.7 536.1,309.6 535.3,310.1 C534.5,310.6 535.2,312.8 535.3,314.1 C535.4,315.4 536.8,320.7 536.4,322.0 C536.0,323.3 533.8,325.5 531.9,326.0 C530.0,326.5 522.4,326.8 519.4,326.5 C516.4,326.2 508.1,324.1 504.7,323.1 C501.3,322.1 491.0,318.6 488.8,317.5 C486.6,316.4 485.2,313.6 484.8,312.9 C484.4,312.2 485.0,311.5 485.4,311.2 C485.8,310.9 487.9,310.9 488.8,310.1 C489.7,309.3 493.2,304.8 493.3,303.9 C493.4,303.0 488.8,303.0 489.4,302.2Z" fill="#c6c6c6" stroke="#222" stroke-width="1.0" stroke-linejoin="round"/>
<path d="M521.0,308.0 C522.3,306.6 528.3,304.7 530.0,305.0 C531.7,305.3 535.2,309.3 536.0,311.0 C536.8,312.7 537.3,318.3 537.0,320.0 C536.7,321.7 534.7,325.3 533.0,326.0 C531.3,326.7 523.7,327.4 522.0,326.5 C520.3,325.6 518.1,320.1 518.0,318.0 C517.9,315.9 519.7,309.4 521.0,308.0Z" fill="#d2d2d2" stroke="#333" stroke-width="0.8" stroke-linejoin="round"/>
<path d="M505.8,305.0 L510.3,299.3 L516.0,298.8 L518.3,303.9 L527.4,301.6 L533.0,302.2" fill="none" stroke="#2a2a2a" stroke-width="1.2" stroke-linecap="round" stroke-linejoin="round"/>
<path d="M505.8,305.0 L511.5,308.4 L529.6,305.0" fill="none" stroke="#3a3a3a" stroke-width="1.0" stroke-linecap="round" stroke-linejoin="round"/>
<path d="M494.5,314.3 L517.0,316.8" fill="none" stroke="#3a3a3a" stroke-width="2.6" stroke-linecap="round" stroke-linejoin="round"/>
<ellipse cx="490.5" cy="314.6" rx="3" ry="1.6" fill="#fafafa"/>
<ellipse cx="518.5" cy="315.2" rx="1.5" ry="1.4" fill="#fff"/>
<ellipse cx="540" cy="306" rx="1.8" ry="2.2" fill="#222"/>
<line x1="524.2" y1="329" x2="543.2" y2="329" stroke="#111" stroke-width="1.8"/>
<path d="M474.4,350.1 C475.7,348.9 482.3,346.0 485.5,344.8 C488.7,343.6 499.1,340.4 503.0,339.6 C506.9,338.8 517.0,337.6 520.5,337.3 C524.0,337.0 532.9,336.4 534.5,336.7 C536.1,337.0 535.4,339.0 535.1,340.2 C534.8,341.4 531.9,346.0 531.6,347.2 C531.3,348.4 532.9,350.2 532.2,350.7 C531.5,351.2 526.0,350.8 525.2,351.3 C524.4,351.8 524.9,354.2 525.2,355.3 C525.5,356.4 527.5,360.1 527.5,361.2 C527.5,362.3 527.3,364.7 525.2,365.3 C523.1,365.9 513.2,366.5 508.8,366.4 C504.4,366.3 489.3,364.8 485.5,364.1 C481.7,363.4 476.3,361.0 475.0,360.0 C473.7,359.0 473.9,356.4 473.8,355.3 C473.7,354.2 473.1,351.3 474.4,350.1Z" fill="#c4c4c4" stroke="#222" stroke-width="1.0" stroke-linejoin="round"/>
<path d="M512.0,352.0 C513.2,350.9 518.4,348.8 520.0,349.0 C521.6,349.2 525.2,352.6 526.0,354.0 C526.8,355.4 527.7,359.9 527.5,361.2 C527.3,362.5 525.7,365.0 524.0,365.5 C522.3,366.0 513.7,366.7 512.0,366.0 C510.3,365.3 509.0,360.6 509.0,359.0 C509.0,357.4 510.8,353.1 512.0,352.0Z" fill="#d0d0d0" stroke="#333" stroke-width="0.8" stroke-linejoin="round"/>
<ellipse cx="503" cy="347.8" rx="5.2" ry="3.6" fill="#262626"/>
<path d="M494.0,354.0 L508.0,349.0 L520.5,344.8" fill="none" stroke="#e0e0e0" stroke-width="1.6" stroke-linecap="round" stroke-linejoin="round"/>
<path d="M494.0,356.0 L520.0,348.0" fill="none" stroke="#444" stroke-width="0.8" stroke-linecap="round" stroke-linejoin="round"/>
<ellipse cx="482.6" cy="358.3" rx="3.2" ry="2" fill="#fafafa"/>
<ellipse cx="507.7" cy="355.9" rx="3.4" ry="2.1" fill="#fafafa"/>
<ellipse cx="531" cy="349" rx="1.6" ry="2" fill="#222"/>
<line x1="515.8" y1="369.1" x2="531.6" y2="369.1" stroke="#111" stroke-width="1.8"/>
<path d="M472.8,382.8 C474.1,381.5 481.5,378.5 484.7,377.7 C487.9,376.9 497.9,375.3 501.7,375.4 C505.5,375.5 516.4,378.2 518.7,378.8 C521.0,379.4 522.1,380.2 522.1,381.1 C522.1,382.0 519.5,385.8 518.7,386.7 C517.9,387.6 515.3,388.2 515.3,389.0 C515.3,389.8 518.7,392.5 518.7,393.5 C518.7,394.5 515.7,396.8 515.3,398.1 C514.9,399.4 515.9,403.8 515.3,404.9 C514.7,406.0 512.4,408.1 509.6,408.3 C506.8,408.5 494.3,407.5 490.3,407.1 C486.3,406.7 475.9,405.5 473.3,404.9 C470.7,404.3 467.9,402.9 467.1,402.0 C466.3,401.1 466.1,397.7 466.5,396.9 C466.9,396.1 470.3,395.6 471.1,394.7 C471.9,393.8 473.1,390.3 473.3,389.0 C473.5,387.7 471.5,384.1 472.8,382.8Z" fill="#c6c6c6" stroke="#222" stroke-width="1.0" stroke-linejoin="round"/>
<path d="M502.0,394.0 C503.4,393.0 509.4,390.7 511.0,391.0 C512.6,391.3 515.4,395.4 516.0,397.0 C516.6,398.6 516.7,403.7 516.0,405.0 C515.3,406.3 511.8,408.0 510.0,408.3 C508.2,408.6 501.3,408.4 500.0,407.5 C498.7,406.6 497.8,401.5 498.0,400.0 C498.2,398.5 500.6,395.0 502.0,394.0Z" fill="#d2d2d2" stroke="#333" stroke-width="0.8" stroke-linejoin="round"/>
<path d="M477.5,384.0 C477.9,382.7 482.2,381.1 483.0,382.0 C483.8,382.9 485.4,390.7 485.0,392.0 C484.6,393.3 479.8,394.9 479.0,394.0 C478.2,393.1 477.1,385.3 477.5,384.0Z" fill="#6e6e6e" stroke="none" stroke-width="0" stroke-linejoin="round"/>
<path d="M489.0,392.0 L498.0,387.0 L510.0,384.0" fill="none" stroke="#2e2e2e" stroke-width="2.0" stroke-linecap="round" stroke-linejoin="round"/>
<path d="M489.0,394.5 L510.0,387.0" fill="none" stroke="#e2e2e2" stroke-width="1.0" stroke-linecap="round" stroke-linejoin="round"/>
<path d="M482.0,399.0 L497.0,397.0" fill="none" stroke="#555" stroke-width="1.6" stroke-linecap="round" stroke-linejoin="round"/>
<ellipse cx="475.6" cy="399.2" rx="3.2" ry="2" fill="#fafafa"/>
<ellipse cx="499.4" cy="395.8" rx="1.6" ry="1.3" fill="#fff"/>
<ellipse cx="517" cy="392" rx="1.5" ry="2" fill="#222"/>
<line x1="468.2" y1="408.3" x2="477.9" y2="408.3" stroke="#111" stroke-width="1.8"/>
<path d="M462.4,439.9 C462.1,439.4 467.2,434.8 468.9,433.4 C470.6,432.0 475.5,428.7 478.0,427.5 C480.5,426.3 488.1,423.1 491.0,422.3 C493.9,421.5 501.5,421.2 504.0,420.4 C506.5,419.6 511.8,415.9 513.1,415.2 C514.4,414.5 515.1,413.0 515.7,413.9 C516.3,414.8 517.7,421.8 518.3,423.6 C518.9,425.4 521.0,429.1 520.9,430.1 C520.8,431.1 517.6,431.8 517.0,432.7 C516.4,433.6 516.3,437.2 515.7,437.9 C515.1,438.6 512.8,438.8 511.8,439.2 C510.8,439.6 507.3,440.6 506.6,441.8 C505.9,443.0 506.6,448.4 505.3,449.6 C504.0,450.8 498.7,452.2 494.9,452.9 C491.1,453.6 475.0,455.8 471.5,456.1 C468.0,456.4 465.1,455.9 463.7,455.5 C462.3,455.1 458.2,453.6 458.5,452.9 C458.8,452.2 465.6,450.4 466.3,449.6 C467.0,448.8 465.9,445.9 465.0,446.0 C464.1,446.1 457.9,451.1 457.9,450.9 C457.9,450.7 463.5,445.8 465.0,444.4 C466.5,443.0 471.8,438.4 471.5,437.9 C471.2,437.4 462.7,440.4 462.4,439.9Z" fill="#a0a0a0" stroke="#1a1a1a" stroke-width="0.9" stroke-linejoin="round"/>
<path d="M459.8,441.2 L465.0,436.0 L470.0,432.0" fill="none" stroke="#1a1a1a" stroke-width="1.5" stroke-linecap="round" stroke-linejoin="round"/>
<ellipse cx="484" cy="434" rx="7" ry="3.4" fill="#1c1c1c"/>
<path d="M476.0,441.0 L492.0,437.0 L506.0,430.0" fill="none" stroke="#c8c8c8" stroke-width="1.5" stroke-linecap="round" stroke-linejoin="round"/>
<ellipse cx="498.8" cy="434.7" rx="1.3" ry="1.3" fill="#fff"/>
<ellipse cx="491" cy="444.4" rx="1.2" ry="2.2" fill="#f0f0f0"/>
<ellipse cx="516" cy="429" rx="2.4" ry="4" fill="#181818"/>
<path d="M470.0,448.0 L494.0,443.0" fill="none" stroke="#3a3a3a" stroke-width="1.8" stroke-linecap="round" stroke-linejoin="round"/>
<line x1="509.2" y1="450.7" x2="515.1" y2="450.7" stroke="#111" stroke-width="1.6"/>
<path d="M461.1,478.8 C460.7,478.4 462.7,476.1 463.7,475.5 C464.7,474.9 468.3,473.6 470.2,473.6 C472.1,473.6 478.3,475.7 480.6,475.5 C482.9,475.3 488.8,473.0 491.0,471.6 C493.2,470.2 498.7,464.2 500.1,463.2 C501.5,462.2 503.1,461.9 504.0,462.5 C504.9,463.1 506.9,467.3 507.9,469.0 C508.9,470.7 512.4,476.7 513.1,478.1 C513.8,479.5 514.4,480.7 514.4,482.0 C514.4,483.3 513.1,488.1 513.1,489.8 C513.1,491.5 514.8,496.0 514.4,497.6 C514.0,499.2 510.6,503.3 509.2,504.1 C507.8,504.9 503.4,504.9 501.4,504.8 C499.4,504.7 494.3,503.5 491.0,502.8 C487.7,502.1 474.7,499.8 471.5,498.9 C468.3,498.0 463.6,495.1 462.4,494.4 C461.2,493.7 460.1,492.6 461.1,492.4 C462.1,492.2 471.5,493.2 471.5,493.0 C471.5,492.8 462.1,490.9 461.1,490.5 C460.1,490.1 461.2,489.6 462.4,489.2 C463.6,488.8 470.1,487.8 471.5,487.2 C472.9,486.6 475.8,484.9 475.4,484.0 C475.0,483.1 469.2,479.4 467.6,478.8 C466.0,478.2 461.5,479.2 461.1,478.8Z" fill="#a6a6a6" stroke="#1a1a1a" stroke-width="1.0" stroke-linejoin="round"/>
<path d="M495.0,483.0 C497.1,481.9 510.9,488.2 513.1,489.8 C515.3,491.4 514.8,496.0 514.4,497.6 C514.0,499.2 510.6,503.3 509.2,504.1 C507.8,504.9 503.1,505.3 501.4,504.8 C499.7,504.3 494.7,502.4 494.0,500.0 C493.3,497.6 492.9,484.1 495.0,483.0Z" fill="#9a9a9a" stroke="none" stroke-width="0" stroke-linejoin="round"/>
<path d="M459.8,480.7 L462.0,477.0 L466.0,474.5" fill="none" stroke="#1e1e1e" stroke-width="1.5" stroke-linecap="round" stroke-linejoin="round"/>
<path d="M472.0,484.0 L486.0,481.0 L500.0,478.0 L508.0,472.0" fill="none" stroke="#dcdcdc" stroke-width="1.6" stroke-linecap="round" stroke-linejoin="round"/>
<path d="M474.0,487.0 L500.0,481.0" fill="none" stroke="#3a3a3a" stroke-width="0.9" stroke-linecap="round" stroke-linejoin="round"/>
<ellipse cx="490" cy="477" rx="5" ry="2.3" fill="#5a5a5a"/>
<path d="M475.0,492.0 L494.0,490.0" fill="none" stroke="#444" stroke-width="1.6" stroke-linecap="round" stroke-linejoin="round"/>
<ellipse cx="507" cy="481" rx="1.5" ry="1.5" fill="#fff"/>
<line x1="464.4" y1="502.8" x2="474.8" y2="502.8" stroke="#111" stroke-width="1.8"/>
</svg></body></html>
